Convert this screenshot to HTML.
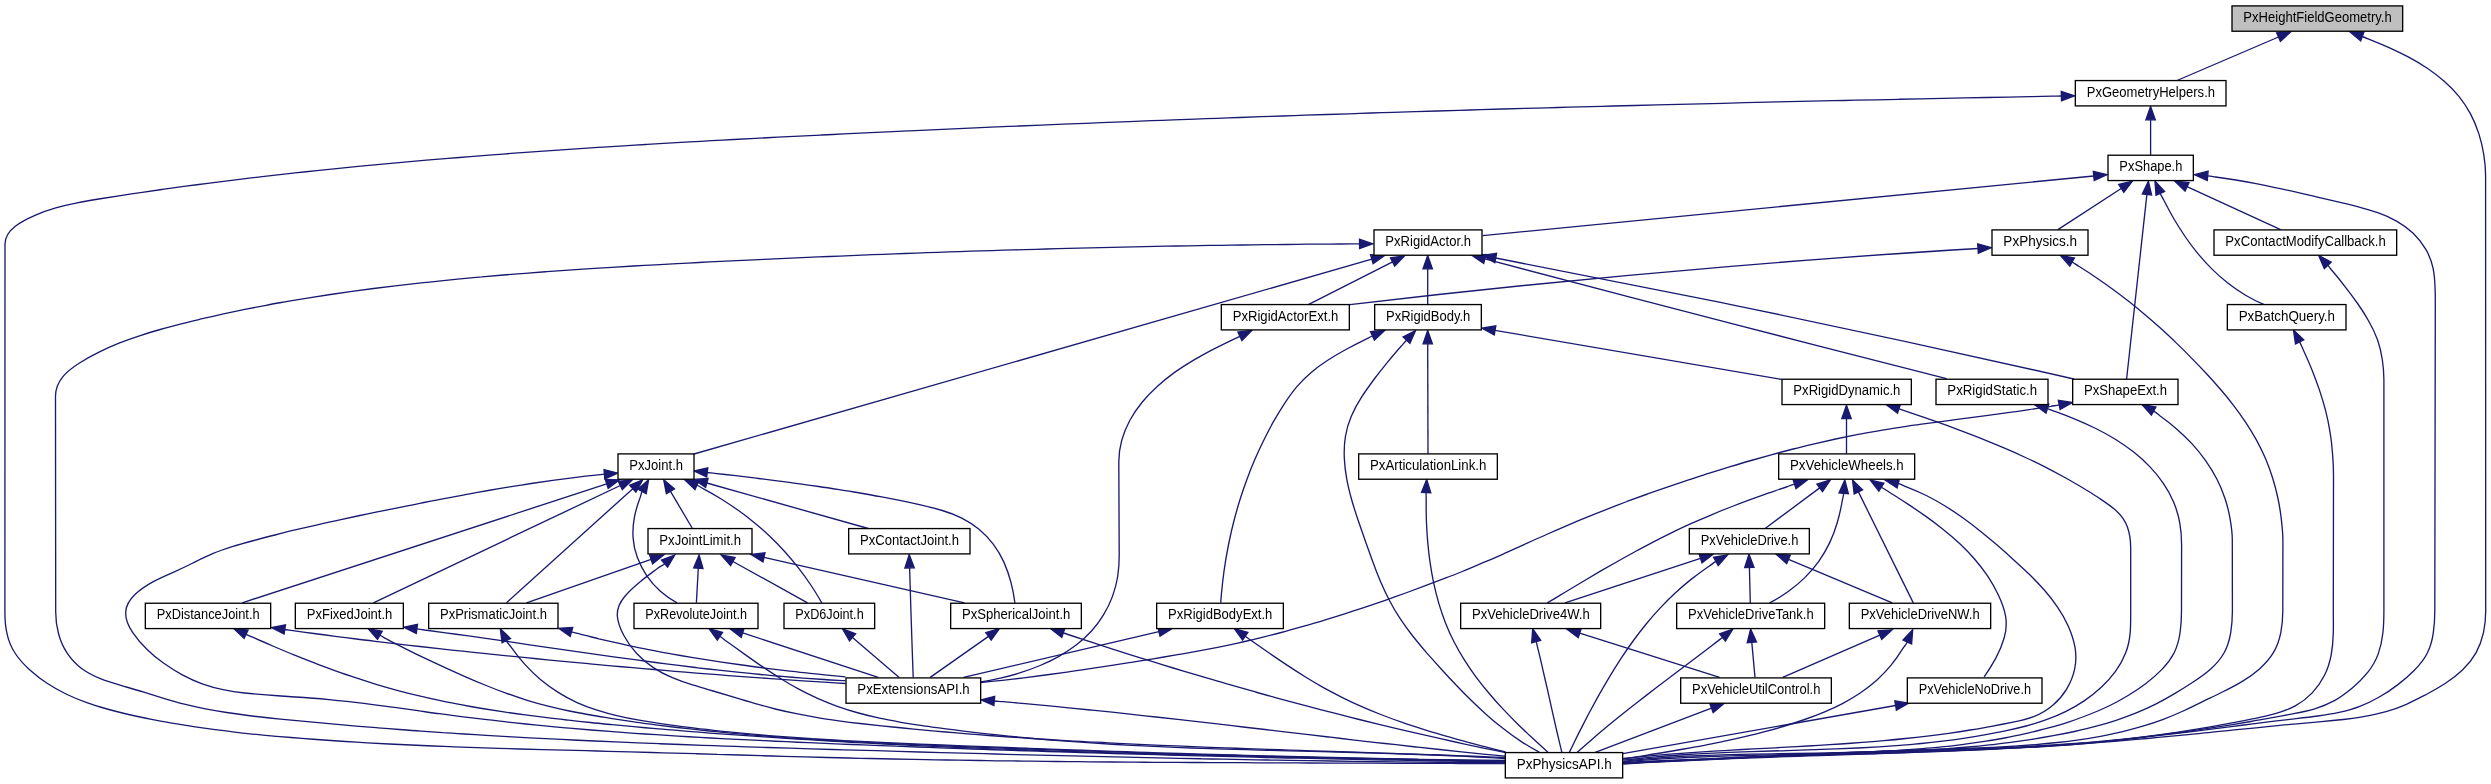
<!DOCTYPE html><html><head><meta charset="utf-8"><title>PxHeightFieldGeometry.h</title>
<style>html,body{margin:0;padding:0;background:#fff}svg{display:block;will-change:transform;opacity:0.999}text{font-family:"Liberation Sans",sans-serif;font-size:14px;fill:#000;text-anchor:start}.e{fill:none;stroke:#191970;stroke-width:1.33}.a{fill:#191970;stroke:#191970;stroke-width:1.33}.n{fill:#fff;stroke:#000;stroke-width:1.33}</style></head><body>
<svg width="2491" height="784" viewBox="0 0 2491 784">
<rect x="0" y="0" width="2491" height="784" fill="#fff"/>
<path class="e" d="M2278.5,37.0L2177.0,80.5"/>
<polygon class="a" points="2290.8,31.8 2276.7,32.8 2280.4,41.3"/>
<path class="e" d="M2362.3,36.5C2364.6,37.3 2366.9,38.3 2369.3,39.3C2375.9,41.9 2382.6,44.7 2389.1,47.6C2395.7,50.6 2402.3,53.8 2408.7,57.2C2415.0,60.6 2421.3,64.3 2427.3,68.3C2433.2,72.3 2438.9,76.6 2444.2,81.3C2449.5,85.9 2454.4,90.9 2458.9,96.4C2463.3,101.8 2467.2,107.7 2470.5,113.9C2473.9,120.2 2476.6,126.9 2478.8,133.6C2481.0,140.5 2482.7,147.5 2483.8,154.6C2484.9,161.7 2485.6,168.8 2485.6,176.0L2485.7,611.0C2485.7,618.3 2485.0,625.6 2483.5,632.7C2481.9,639.7 2479.5,646.6 2476.0,652.9C2472.5,659.1 2467.9,664.8 2462.7,669.8C2457.5,674.9 2451.6,679.3 2445.5,683.3C2439.2,687.4 2432.7,691.0 2426.2,694.5C2419.6,697.9 2413.1,701.3 2406.4,704.3C2399.8,707.2 2392.9,709.7 2386.0,711.7C2379.1,713.6 2372.0,715.2 2364.9,716.4C2357.8,717.7 2350.6,718.7 2343.4,719.5C2336.1,720.3 2328.8,721.0 2321.6,721.6C2314.3,722.2 2307.0,722.9 2299.7,723.6C2292.4,724.2 2285.2,724.9 2277.9,725.6C2270.6,726.3 2263.4,727.0 2256.1,727.8C2248.8,728.5 2241.6,729.2 2234.3,729.9C2227.1,730.7 2219.8,731.4 2212.5,732.1C2205.3,732.9 2198.0,733.6 2190.8,734.3C2183.5,735.0 2176.3,735.7 2169.0,736.4C2161.8,737.1 2154.5,737.8 2147.3,738.5C2140.0,739.1 2132.8,739.8 2125.5,740.4C2118.3,741.0 2111.0,741.6 2103.8,742.2C2096.5,742.8 2089.2,743.3 2082.0,743.9C2074.7,744.4 2067.5,744.9 2060.2,745.4C2052.9,745.8 2045.6,746.3 2038.4,746.7C2031.1,747.1 2023.8,747.6 2016.6,747.9C2009.3,748.3 2002.0,748.7 1994.7,749.1C1987.4,749.4 1980.2,749.8 1972.9,750.1C1965.6,750.4 1958.3,750.7 1951.0,751.0C1943.8,751.3 1936.5,751.6 1929.2,751.9C1921.9,752.1 1914.6,752.4 1907.3,752.7C1900.0,752.9 1892.8,753.2 1885.5,753.4C1878.2,753.7 1870.9,753.9 1863.6,754.2C1856.3,754.4 1849.0,754.6 1841.7,754.9C1834.5,755.1 1827.2,755.3 1819.9,755.6C1812.6,755.8 1805.3,756.1 1798.0,756.3C1790.7,756.5 1783.4,756.8 1776.1,757.0C1768.9,757.3 1761.6,757.6 1754.3,757.8C1747.0,758.1 1739.7,758.4 1732.4,758.6C1725.2,758.9 1717.9,759.2 1710.6,759.5C1703.3,759.8 1696.0,760.2 1688.8,760.5C1681.5,760.8 1674.2,761.2 1666.9,761.6C1659.7,761.9 1652.4,762.3 1645.1,762.7C1637.8,763.1 1630.6,763.6 1623.3,764.0"/>
<polygon class="a" points="2349.8,31.8 2360.7,40.8 2363.9,32.1"/>
<path class="e" d="M2150.6,119.8L2150.6,154.8"/>
<polygon class="a" points="2150.6,106.5 2145.9,119.8 2155.3,119.8"/>
<path class="e" d="M2061.4,96.0C2058.5,96.1 2055.6,96.2 2052.7,96.2C2045.4,96.4 2038.0,96.5 2030.7,96.6C2023.4,96.8 2016.1,96.9 2008.7,97.1C2001.4,97.2 1994.1,97.3 1986.7,97.5C1979.4,97.6 1972.1,97.8 1964.7,97.9C1957.4,98.1 1950.1,98.2 1942.8,98.4C1935.4,98.5 1928.1,98.7 1920.8,98.8C1913.4,99.0 1906.1,99.1 1898.8,99.3C1891.4,99.4 1884.1,99.6 1876.8,99.8C1869.4,99.9 1862.1,100.1 1854.8,100.2C1847.5,100.4 1840.1,100.6 1832.8,100.7C1825.5,100.9 1818.1,101.0 1810.8,101.2C1803.5,101.4 1796.1,101.5 1788.8,101.7C1781.5,101.9 1774.1,102.0 1766.8,102.2C1759.5,102.4 1752.2,102.6 1744.8,102.7C1737.5,102.9 1730.2,103.1 1722.8,103.3C1715.5,103.4 1708.2,103.6 1700.8,103.8C1693.5,104.0 1686.2,104.2 1678.9,104.3C1671.5,104.5 1664.2,104.7 1656.9,104.9C1649.5,105.1 1642.2,105.3 1634.9,105.5C1627.5,105.6 1620.2,105.8 1612.9,106.0C1605.6,106.2 1598.2,106.4 1590.9,106.6C1583.6,106.8 1576.2,107.0 1568.9,107.2C1561.6,107.4 1554.2,107.6 1546.9,107.8C1539.6,108.0 1532.3,108.2 1524.9,108.4C1517.6,108.6 1510.3,108.8 1502.9,109.0C1495.6,109.3 1488.3,109.5 1480.9,109.7C1473.6,109.9 1466.3,110.1 1459.0,110.3C1451.6,110.6 1444.3,110.8 1437.0,111.0C1429.6,111.2 1422.3,111.4 1415.0,111.7C1407.6,111.9 1400.3,112.1 1393.0,112.3C1385.7,112.6 1378.3,112.8 1371.0,113.0C1363.7,113.3 1356.3,113.5 1349.0,113.8C1341.7,114.0 1334.4,114.2 1327.0,114.5C1319.7,114.7 1312.4,115.0 1305.0,115.2C1297.7,115.5 1290.4,115.7 1283.1,116.0C1275.7,116.2 1268.4,116.5 1261.1,116.7C1253.7,117.0 1246.4,117.2 1239.1,117.5C1231.8,117.8 1224.4,118.0 1217.1,118.3C1209.8,118.5 1202.4,118.8 1195.1,119.1C1187.8,119.3 1180.5,119.6 1173.1,119.9C1165.8,120.2 1158.5,120.4 1151.2,120.7C1143.8,121.0 1136.5,121.3 1129.2,121.6C1121.8,121.9 1114.5,122.1 1107.2,122.4C1099.9,122.7 1092.5,123.0 1085.2,123.3C1077.9,123.6 1070.6,123.9 1063.2,124.2C1055.9,124.5 1048.6,124.8 1041.3,125.1C1033.9,125.4 1026.6,125.7 1019.3,126.0C1012.0,126.3 1004.6,126.6 997.3,126.9C990.0,127.3 982.7,127.6 975.3,127.9C968.0,128.2 960.7,128.5 953.4,128.9C946.0,129.2 938.7,129.5 931.4,129.8C924.1,130.2 916.7,130.5 909.4,130.8C902.1,131.2 894.8,131.5 887.4,131.9C880.1,132.2 872.8,132.5 865.5,132.9C858.1,133.2 850.8,133.6 843.5,133.9C836.2,134.3 828.8,134.7 821.5,135.0C814.2,135.4 806.9,135.7 799.5,136.1C792.2,136.5 784.9,136.8 777.6,137.2C770.3,137.6 762.9,138.0 755.6,138.3C748.3,138.7 741.0,139.1 733.6,139.5C726.3,139.9 719.0,140.3 711.7,140.7C704.4,141.1 697.0,141.5 689.7,141.9C682.4,142.3 675.1,142.7 667.8,143.2C660.4,143.6 653.1,144.0 645.8,144.5C638.5,144.9 631.2,145.4 623.9,145.8C616.5,146.3 609.2,146.7 601.9,147.2C594.6,147.7 587.3,148.1 580.0,148.6C572.6,149.1 565.3,149.6 558.0,150.1C550.7,150.6 543.4,151.1 536.1,151.6C528.8,152.2 521.4,152.7 514.1,153.2C506.8,153.8 499.5,154.3 492.2,154.9C484.9,155.4 477.6,156.0 470.3,156.6C463.0,157.2 455.6,157.8 448.3,158.4C441.0,159.0 433.7,159.6 426.4,160.2C419.1,160.8 411.8,161.5 404.5,162.1C397.2,162.8 389.9,163.4 382.6,164.1C375.3,164.8 368.0,165.5 360.7,166.2C353.4,166.9 346.1,167.6 338.8,168.4C331.5,169.1 324.2,169.8 316.9,170.6C309.6,171.4 302.3,172.1 295.0,172.9C287.7,173.7 280.4,174.6 273.2,175.4C265.9,176.2 258.6,177.1 251.3,177.9C244.0,178.8 236.7,179.7 229.5,180.6C222.2,181.5 214.9,182.4 207.7,183.3C200.4,184.3 193.1,185.2 185.8,186.2C178.6,187.2 171.3,188.2 164.1,189.2C156.8,190.2 149.5,191.3 142.3,192.3C135.0,193.4 127.8,194.5 120.5,195.6C113.3,196.7 106.1,197.8 98.8,199.0C91.6,200.1 84.3,201.3 77.2,202.8C70.0,204.2 62.8,205.8 55.8,207.9C48.7,209.9 41.7,212.3 35.0,215.3C28.1,218.3 21.2,221.6 15.3,226.2C9.9,230.4 5.0,237.2 5.0,244.0L4.9,612.0C4.9,619.2 5.4,626.6 7.0,633.6C8.5,640.7 11.3,647.5 15.3,653.5C19.3,659.7 24.5,665.1 29.9,670.0C35.3,674.9 41.1,679.4 47.1,683.3C53.1,687.3 59.5,690.8 66.0,694.0C72.5,697.1 79.3,699.9 86.1,702.4C93.0,704.9 100.0,707.0 107.1,709.0C114.2,711.0 121.4,712.8 128.6,714.5C135.8,716.1 143.0,717.7 150.2,719.1C157.4,720.6 164.6,721.9 171.8,723.2C179.0,724.4 186.2,725.6 193.5,726.6C200.7,727.7 207.9,728.7 215.1,729.7C222.3,730.6 229.5,731.5 236.8,732.3C244.0,733.1 251.2,733.9 258.5,734.6C265.7,735.3 272.9,736.0 280.2,736.6C287.4,737.2 294.7,737.8 301.9,738.4C309.2,739.0 316.4,739.5 323.7,740.0C331.0,740.5 338.2,741.0 345.5,741.5C352.8,741.9 360.0,742.4 367.3,742.8C374.6,743.2 381.9,743.6 389.1,744.0C396.4,744.4 403.7,744.7 411.0,745.0C418.3,745.4 425.6,745.7 432.9,746.0C440.2,746.3 447.4,746.6 454.7,746.8C462.0,747.1 469.3,747.4 476.6,747.6C483.9,747.9 491.2,748.1 498.5,748.3C505.8,748.6 513.1,748.8 520.4,749.0C527.7,749.2 535.0,749.4 542.3,749.6C549.6,749.8 556.9,750.0 564.2,750.2C571.5,750.4 578.9,750.5 586.2,750.7C593.5,750.9 600.8,751.1 608.1,751.3C615.4,751.5 622.7,751.7 630.0,751.9C637.3,752.1 644.6,752.3 651.8,752.5C659.1,752.7 666.4,752.9 673.7,753.1C681.0,753.3 688.3,753.5 695.6,753.7C702.9,753.9 710.2,754.1 717.5,754.4C724.8,754.6 732.1,754.8 739.3,755.0C746.6,755.2 753.9,755.4 761.2,755.7C768.5,755.9 775.8,756.1 783.1,756.3C790.4,756.5 797.6,756.7 804.9,756.9C812.2,757.1 819.5,757.3 826.8,757.5C834.1,757.7 841.4,757.9 848.7,758.0C856.0,758.2 863.2,758.4 870.5,758.5C877.8,758.7 885.1,758.9 892.4,759.0C899.7,759.2 907.0,759.3 914.3,759.4C921.6,759.6 928.9,759.7 936.2,759.8C943.5,760.0 950.7,760.1 958.0,760.2C965.3,760.3 972.6,760.4 979.9,760.5C987.2,760.6 994.5,760.8 1001.8,760.8C1009.1,760.9 1016.4,761.0 1023.7,761.1C1031.0,761.2 1038.3,761.3 1045.6,761.4C1052.9,761.5 1060.2,761.5 1067.5,761.6C1074.8,761.7 1082.1,761.7 1089.4,761.8C1096.7,761.9 1104.0,761.9 1111.2,762.0C1118.5,762.0 1125.8,762.1 1133.1,762.2C1140.4,762.2 1147.7,762.3 1155.0,762.3C1162.3,762.3 1169.6,762.4 1176.9,762.4C1184.2,762.5 1191.5,762.5 1198.8,762.5C1206.1,762.6 1213.4,762.6 1220.7,762.7C1228.0,762.7 1235.3,762.7 1242.6,762.7C1249.9,762.8 1257.2,762.8 1264.5,762.8C1271.8,762.9 1279.1,762.9 1286.4,762.9C1293.7,762.9 1301.0,763.0 1308.3,763.0C1315.6,763.0 1322.9,763.0 1330.2,763.1C1337.5,763.1 1344.8,763.1 1352.1,763.1C1359.3,763.1 1366.6,763.2 1373.9,763.2C1381.2,763.2 1388.5,763.2 1395.8,763.3C1403.1,763.3 1410.4,763.3 1417.7,763.3C1425.0,763.4 1432.3,763.4 1439.6,763.4C1446.9,763.4 1454.2,763.5 1461.5,763.5C1468.7,763.5 1476.0,763.6 1483.3,763.6C1490.6,763.6 1497.9,763.7 1505.2,763.7"/>
<polygon class="a" points="2074.7,95.8 2061.3,91.4 2061.5,100.7"/>
<path class="e" d="M2093.7,176.0L1482.6,235.6"/>
<polygon class="a" points="2107.0,174.7 2093.3,171.3 2094.2,180.6"/>
<path class="e" d="M2121.2,188.5L2057.9,229.6"/>
<polygon class="a" points="2132.4,181.2 2118.7,184.5 2123.8,192.4"/>
<path class="e" d="M2146.9,194.4L2126.6,379.0"/>
<polygon class="a" points="2148.4,181.2 2142.3,193.9 2151.6,195.0"/>
<path class="e" d="M2160.3,193.4C2161.3,195.8 2162.8,198.0 2163.9,200.3C2167.1,206.6 2170.4,212.9 2174.0,219.0C2177.6,225.1 2181.4,231.1 2185.4,237.0C2189.4,242.8 2193.6,248.4 2198.1,253.9C2202.6,259.3 2207.3,264.5 2212.3,269.4C2217.3,274.3 2222.6,279.0 2228.1,283.3C2233.6,287.6 2239.5,291.6 2245.5,295.2C2251.7,298.8 2258.1,302.1 2264.7,304.8"/>
<polygon class="a" points="2155.0,181.2 2156.0,195.3 2164.6,191.6"/>
<path class="e" d="M2187.0,186.7L2280.6,229.6"/>
<polygon class="a" points="2174.9,181.2 2185.1,191.0 2189.0,182.5"/>
<path class="e" d="M2207.7,175.9C2210.3,176.1 2212.8,176.6 2215.4,177.0C2222.2,177.9 2229.1,178.9 2235.9,180.0C2242.7,181.1 2249.4,182.3 2256.1,183.6C2262.8,184.9 2269.5,186.3 2276.2,187.8C2282.9,189.2 2289.6,190.7 2296.3,192.2C2303.0,193.8 2309.7,195.4 2316.4,196.9C2323.2,198.5 2330.0,200.1 2336.9,201.7C2343.8,203.3 2350.7,204.9 2357.5,206.6C2364.3,208.4 2371.1,210.3 2377.7,212.7C2384.2,215.0 2390.5,217.7 2396.5,221.1C2402.4,224.4 2408.0,228.4 2412.9,233.0C2417.9,237.8 2422.3,243.2 2425.7,249.2C2429.2,255.1 2431.7,261.7 2433.1,268.4C2434.5,275.2 2434.9,282.2 2435.1,289.2C2435.4,296.1 2435.3,303.1 2435.3,310.0L2434.8,611.0C2434.8,618.3 2434.4,625.6 2433.3,632.8C2432.3,639.8 2430.4,646.9 2427.2,653.3C2424.0,659.8 2419.2,665.4 2414.1,670.5C2409.0,675.7 2403.4,680.5 2397.6,684.9C2391.8,689.4 2385.7,693.4 2379.3,697.0C2373.1,700.6 2366.5,703.8 2359.8,706.3C2353.1,708.9 2346.1,710.8 2339.1,712.4C2332.0,713.9 2324.9,715.0 2317.7,716.0C2310.5,717.0 2303.3,717.8 2296.1,718.6C2288.8,719.5 2281.6,720.3 2274.4,721.2C2267.1,722.1 2259.9,723.0 2252.7,723.9C2245.5,724.8 2238.3,725.7 2231.1,726.6C2223.9,727.6 2216.7,728.5 2209.5,729.4C2202.3,730.3 2195.1,731.2 2187.9,732.1C2180.7,733.0 2173.5,733.9 2166.3,734.7C2159.1,735.6 2151.9,736.4 2144.7,737.2C2137.5,738.0 2130.3,738.8 2123.1,739.5C2115.9,740.2 2108.7,740.9 2101.5,741.6C2094.2,742.2 2087.0,742.8 2079.8,743.4C2072.6,744.0 2065.3,744.6 2058.1,745.1C2050.9,745.6 2043.7,746.1 2036.4,746.5C2029.2,747.0 2022.0,747.4 2014.7,747.8C2007.5,748.2 2000.2,748.6 1993.0,749.0C1985.8,749.3 1978.5,749.7 1971.3,750.0C1964.0,750.3 1956.8,750.6 1949.5,750.9C1942.3,751.2 1935.0,751.5 1927.8,751.7C1920.5,752.0 1913.3,752.2 1906.0,752.5C1898.7,752.7 1891.5,752.9 1884.2,753.1C1877.0,753.4 1869.7,753.6 1862.5,753.8C1855.2,754.0 1847.9,754.2 1840.7,754.4C1833.4,754.6 1826.2,754.8 1818.9,755.0C1811.7,755.3 1804.4,755.5 1797.1,755.7C1789.9,755.9 1782.6,756.1 1775.4,756.4C1768.1,756.6 1760.9,756.9 1753.6,757.1C1746.4,757.4 1739.1,757.6 1731.9,757.9C1724.6,758.2 1717.4,758.5 1710.1,758.8C1702.9,759.1 1695.6,759.5 1688.4,759.8C1681.2,760.2 1673.9,760.6 1666.7,761.0C1659.5,761.4 1652.2,761.8 1645.0,762.3C1637.8,762.7 1630.5,763.2 1623.3,763.7"/>
<polygon class="a" points="2194.4,174.7 2207.3,180.5 2208.1,171.2"/>
<path class="e" d="M1359.6,243.9C1356.8,243.9 1354.0,243.9 1351.1,243.9C1343.9,244.0 1336.6,244.0 1329.4,244.1C1322.1,244.1 1314.9,244.2 1307.6,244.2C1300.4,244.3 1293.1,244.4 1285.9,244.5C1278.6,244.5 1271.4,244.6 1264.1,244.7C1256.9,244.8 1249.6,244.9 1242.4,245.0C1235.1,245.1 1227.9,245.2 1220.6,245.3C1213.4,245.4 1206.1,245.5 1198.9,245.6C1191.6,245.8 1184.4,245.9 1177.1,246.0C1169.9,246.1 1162.6,246.3 1155.4,246.4C1148.1,246.6 1140.9,246.7 1133.6,246.9C1126.4,247.0 1119.1,247.2 1111.9,247.3C1104.6,247.5 1097.4,247.7 1090.1,247.9C1082.9,248.0 1075.6,248.2 1068.4,248.4C1061.1,248.6 1053.9,248.8 1046.6,249.0C1039.4,249.2 1032.1,249.4 1024.9,249.6C1017.6,249.8 1010.4,250.0 1003.1,250.2C995.9,250.4 988.6,250.7 981.4,250.9C974.1,251.1 966.9,251.3 959.6,251.6C952.4,251.8 945.1,252.1 937.9,252.3C930.6,252.6 923.4,252.8 916.1,253.1C908.9,253.3 901.6,253.6 894.4,253.9C887.2,254.2 879.9,254.4 872.7,254.7C865.4,255.0 858.2,255.3 850.9,255.6C843.7,255.9 836.4,256.2 829.2,256.5C821.9,256.8 814.7,257.1 807.4,257.4C800.2,257.7 793.0,258.0 785.7,258.4C778.5,258.7 771.2,259.0 764.0,259.3C756.7,259.7 749.5,260.0 742.3,260.4C735.0,260.7 727.8,261.1 720.5,261.4C713.3,261.8 706.0,262.1 698.8,262.5C691.6,262.9 684.3,263.2 677.1,263.6C669.8,264.0 662.6,264.4 655.4,264.8C648.1,265.2 640.9,265.6 633.6,266.0C626.4,266.4 619.2,266.9 611.9,267.3C604.7,267.7 597.5,268.2 590.2,268.7C583.0,269.1 575.8,269.6 568.5,270.1C561.3,270.6 554.1,271.1 546.8,271.6C539.6,272.2 532.4,272.7 525.1,273.3C517.9,273.9 510.7,274.4 503.5,275.0C496.2,275.7 489.0,276.3 481.8,276.9C474.6,277.6 467.3,278.2 460.1,278.9C452.9,279.6 445.7,280.3 438.5,281.1C431.2,281.8 424.0,282.6 416.8,283.4C409.6,284.2 402.4,285.0 395.2,285.9C388.0,286.7 380.8,287.6 373.6,288.5C366.4,289.4 359.2,290.4 352.0,291.4C344.8,292.4 337.6,293.4 330.4,294.5C323.3,295.6 316.1,296.7 308.9,297.8C301.8,299.0 294.6,300.2 287.5,301.4C280.3,302.7 273.2,303.9 266.1,305.3C259.0,306.6 251.9,308.0 244.8,309.4C237.7,310.9 230.6,312.4 223.5,313.9C216.4,315.5 209.4,317.1 202.3,318.7C195.3,320.4 188.2,322.1 181.2,323.9C174.2,325.7 167.2,327.5 160.2,329.5C153.3,331.4 146.3,333.5 139.5,335.8C132.6,338.0 125.7,340.5 119.0,343.2C112.2,345.9 105.5,348.9 99.0,352.2C92.3,355.5 85.8,359.1 79.5,363.0C73.4,366.9 67.2,371.2 62.7,376.9C58.5,382.2 55.5,389.2 55.5,396.0L55.7,612.0C55.7,619.2 56.6,626.5 58.5,633.5C60.3,640.4 63.2,647.2 67.2,653.2C71.0,659.0 75.9,664.3 81.6,668.5C87.3,672.7 93.8,676.0 100.4,678.6C107.3,681.4 114.5,683.5 121.6,685.6C128.8,687.7 135.9,689.7 143.0,691.9C149.9,694.0 156.8,696.2 163.7,698.3C170.6,700.4 177.5,702.4 184.4,704.1C191.4,705.9 198.4,707.4 205.4,708.8C212.4,710.2 219.5,711.4 226.6,712.5C233.8,713.6 240.9,714.6 248.1,715.5C255.2,716.4 262.4,717.2 269.6,718.0C276.8,718.7 284.0,719.5 291.2,720.2C298.5,720.9 305.7,721.6 312.9,722.2C320.1,722.9 327.3,723.6 334.5,724.2C341.7,724.8 348.9,725.4 356.1,726.1C363.4,726.7 370.6,727.2 377.8,727.8C385.0,728.4 392.2,728.9 399.4,729.5C406.7,730.0 413.9,730.5 421.1,731.1C428.3,731.6 435.5,732.1 442.7,732.6C450.0,733.0 457.2,733.5 464.4,734.0C471.6,734.4 478.8,734.9 486.0,735.3C493.3,735.7 500.5,736.2 507.7,736.6C514.9,737.0 522.1,737.4 529.4,737.8C536.6,738.1 543.8,738.5 551.0,738.9C558.2,739.3 565.5,739.6 572.7,740.0C579.9,740.3 587.1,740.6 594.4,741.0C601.6,741.3 608.8,741.6 616.0,741.9C623.3,742.2 630.5,742.5 637.7,742.8C644.9,743.1 652.1,743.4 659.4,743.7C666.6,744.0 673.8,744.3 681.0,744.5C688.3,744.8 695.5,745.1 702.7,745.3C709.9,745.6 717.2,745.8 724.4,746.1C731.6,746.3 738.9,746.5 746.1,746.8C753.3,747.0 760.5,747.2 767.8,747.5C775.0,747.7 782.2,747.9 789.4,748.2C796.7,748.4 803.9,748.6 811.1,748.8C818.4,749.0 825.6,749.2 832.8,749.5C840.0,749.7 847.3,749.9 854.5,750.1C861.7,750.3 868.9,750.5 876.2,750.7C883.4,750.9 890.6,751.1 897.9,751.3C905.1,751.5 912.3,751.7 919.5,752.0C926.8,752.2 934.0,752.4 941.2,752.6C948.5,752.7 955.7,752.9 962.9,753.1C970.2,753.3 977.4,753.5 984.6,753.7C991.8,753.9 999.1,754.1 1006.3,754.3C1013.5,754.5 1020.8,754.7 1028.0,754.8C1035.2,755.0 1042.4,755.2 1049.7,755.4C1056.9,755.6 1064.1,755.7 1071.4,755.9C1078.6,756.1 1085.8,756.3 1093.1,756.4C1100.3,756.6 1107.5,756.8 1114.7,756.9C1122.0,757.1 1129.2,757.3 1136.4,757.4C1143.7,757.6 1150.9,757.7 1158.1,757.9C1165.4,758.0 1172.6,758.2 1179.8,758.3C1187.1,758.5 1194.3,758.6 1201.5,758.8C1208.7,758.9 1216.0,759.1 1223.2,759.2C1230.4,759.3 1237.7,759.5 1244.9,759.6C1252.1,759.7 1259.4,759.9 1266.6,760.0C1273.8,760.1 1281.1,760.2 1288.3,760.3C1295.5,760.5 1302.7,760.6 1310.0,760.7C1317.2,760.8 1324.4,760.9 1331.7,761.0C1338.9,761.1 1346.1,761.2 1353.4,761.3C1360.6,761.4 1367.8,761.5 1375.1,761.6C1382.3,761.7 1389.5,761.8 1396.7,761.9C1404.0,761.9 1411.2,762.0 1418.4,762.1C1425.7,762.2 1432.9,762.2 1440.1,762.3C1447.4,762.4 1454.6,762.4 1461.8,762.5C1469.0,762.6 1476.3,762.6 1483.5,762.7C1490.7,762.7 1498.0,762.8 1505.2,762.8"/>
<polygon class="a" points="1372.9,243.8 1359.5,239.2 1359.6,248.5"/>
<path class="e" d="M1371.8,259.2L694.0,454.0"/>
<polygon class="a" points="1384.6,255.5 1370.5,254.7 1373.1,263.7"/>
<path class="e" d="M1392.6,261.9L1308.3,304.6"/>
<polygon class="a" points="1404.5,255.9 1390.5,257.8 1394.7,266.1"/>
<path class="e" d="M1427.7,268.8L1427.7,304.6"/>
<polygon class="a" points="1427.7,255.5 1423.0,268.8 1432.4,268.8"/>
<path class="e" d="M1484.9,258.9C1566.9,280.7 1648.9,302.1 1731.0,323.4C1802.8,342.0 1874.6,360.4 1946.5,378.7"/>
<polygon class="a" points="1472.0,255.5 1483.7,263.4 1486.1,254.4"/>
<path class="e" d="M1495.7,258.0C1574.3,272.9 1652.7,288.5 1731.0,304.6C1845.5,328.2 1959.8,353.0 2073.8,379.0"/>
<polygon class="a" points="1482.6,255.5 1494.8,262.6 1496.6,253.4"/>
<path class="e" d="M1978.0,248.5C1895.6,253.4 1813.3,259.5 1731.0,266.3C1603.8,276.9 1476.7,289.7 1349.9,304.6"/>
<polygon class="a" points="1991.3,247.7 1977.7,243.8 1978.3,253.2"/>
<path class="e" d="M2072.1,262.0C2074.4,263.3 2076.5,264.9 2078.8,266.3C2084.7,270.0 2090.6,273.8 2096.4,277.7C2102.1,281.6 2107.8,285.6 2113.4,289.7C2119.0,293.8 2124.5,298.0 2129.9,302.3C2135.3,306.6 2140.6,311.0 2145.9,315.5C2151.2,319.9 2156.4,324.5 2161.5,329.1C2166.6,333.8 2171.7,338.5 2176.7,343.4C2181.7,348.2 2186.7,353.1 2191.5,358.1C2196.5,363.1 2201.3,368.1 2206.1,373.2C2210.9,378.4 2215.6,383.6 2220.2,389.0C2224.8,394.3 2229.2,399.7 2233.5,405.3C2237.7,410.8 2241.8,416.5 2245.7,422.3C2249.5,428.1 2253.1,434.0 2256.5,440.1C2259.8,446.2 2262.9,452.4 2265.6,458.7C2268.3,465.1 2270.7,471.6 2272.7,478.3C2274.8,484.9 2276.5,491.7 2278.0,498.5C2279.4,505.3 2280.5,512.2 2281.3,519.1C2282.1,526.0 2282.9,533.0 2282.9,540.0L2282.8,611.0C2282.8,618.3 2282.2,625.6 2280.8,632.7C2279.4,639.6 2277.1,646.6 2273.4,652.7C2269.7,658.8 2264.8,664.2 2259.5,668.9C2254.1,673.7 2248.1,677.9 2241.9,681.6C2235.6,685.4 2229.0,688.8 2222.4,692.0C2215.8,695.3 2209.2,698.4 2202.6,701.6C2196.2,704.8 2189.7,708.0 2183.2,711.0C2176.6,714.0 2170.0,716.8 2163.3,719.3C2156.6,721.8 2149.7,724.1 2142.8,726.2C2135.9,728.3 2128.9,730.1 2121.8,731.8C2114.8,733.5 2107.6,734.9 2100.5,736.3C2093.3,737.6 2086.1,738.8 2078.9,739.8C2071.7,740.8 2064.5,741.7 2057.3,742.5C2050.1,743.3 2042.8,744.0 2035.6,744.6C2028.4,745.2 2021.2,745.7 2014.0,746.2C2006.8,746.6 1999.6,747.0 1992.4,747.3C1985.1,747.6 1977.9,747.9 1970.7,748.2C1963.5,748.5 1956.3,748.7 1949.1,748.9C1941.8,749.2 1934.6,749.4 1927.4,749.7C1920.1,749.9 1912.9,750.2 1905.7,750.4C1898.4,750.7 1891.2,751.0 1884.0,751.2C1876.7,751.5 1869.5,751.8 1862.2,752.1C1855.0,752.4 1847.7,752.6 1840.5,752.9C1833.2,753.2 1826.0,753.5 1818.7,753.8C1811.5,754.1 1804.2,754.4 1797.0,754.8C1789.7,755.1 1782.5,755.4 1775.2,755.7C1768.0,756.0 1760.7,756.3 1753.5,756.6C1746.3,757.0 1739.0,757.3 1731.8,757.6C1724.5,757.9 1717.3,758.3 1710.0,758.6C1702.8,758.9 1695.6,759.2 1688.3,759.6C1681.1,759.9 1673.9,760.2 1666.6,760.5C1659.4,760.9 1652.2,761.2 1645.0,761.5C1637.7,761.9 1630.5,762.2 1623.3,762.5"/>
<polygon class="a" points="2060.5,255.5 2069.8,266.1 2074.4,258.0"/>
<path class="e" d="M2327.7,265.3C2329.3,267.0 2330.7,269.0 2332.2,270.8C2336.7,276.0 2341.0,281.3 2345.2,286.8C2349.5,292.3 2353.6,297.8 2357.6,303.5C2361.6,309.2 2365.4,315.1 2368.8,321.2C2372.2,327.1 2375.2,333.3 2377.5,339.8C2379.8,346.2 2381.3,352.8 2382.3,359.5C2383.3,366.3 2383.9,373.2 2383.9,380.0L2383.9,611.0C2383.9,618.2 2383.7,625.5 2382.9,632.7C2382.1,639.8 2380.7,646.9 2378.3,653.6C2375.9,660.3 2372.3,666.6 2367.9,672.2C2363.3,678.0 2358.0,683.2 2352.3,688.0C2346.7,692.6 2340.8,697.1 2334.4,700.7C2328.2,704.1 2321.5,706.8 2314.7,708.8C2307.8,710.8 2300.7,712.3 2293.6,713.7C2286.5,715.1 2279.4,716.4 2272.2,717.7C2265.1,719.0 2258.0,720.3 2250.8,721.5C2243.7,722.7 2236.6,723.9 2229.4,725.1C2222.3,726.2 2215.1,727.3 2207.9,728.4C2200.8,729.5 2193.6,730.5 2186.5,731.5C2179.3,732.5 2172.1,733.5 2164.9,734.4C2157.8,735.3 2150.6,736.2 2143.4,737.0C2136.2,737.8 2129.0,738.6 2121.8,739.3C2114.6,740.0 2107.4,740.7 2100.2,741.3C2093.0,742.0 2085.8,742.6 2078.6,743.1C2071.4,743.7 2064.2,744.2 2057.0,744.6C2049.7,745.1 2042.5,745.6 2035.3,746.0C2028.1,746.4 2020.9,746.8 2013.6,747.2C2006.4,747.5 1999.2,747.9 1992.0,748.2C1984.7,748.5 1977.5,748.9 1970.3,749.2C1963.1,749.5 1955.8,749.7 1948.6,750.0C1941.4,750.3 1934.1,750.6 1926.9,750.8C1919.7,751.1 1912.4,751.4 1905.2,751.7C1898.0,751.9 1890.8,752.2 1883.5,752.4C1876.3,752.7 1869.1,753.0 1861.8,753.2C1854.6,753.5 1847.4,753.7 1840.1,754.0C1832.9,754.3 1825.7,754.5 1818.4,754.8C1811.2,755.0 1804.0,755.3 1796.8,755.6C1789.5,755.8 1782.3,756.1 1775.1,756.4C1767.8,756.7 1760.6,756.9 1753.4,757.2C1746.2,757.5 1738.9,757.8 1731.7,758.1C1724.5,758.4 1717.2,758.7 1710.0,759.0C1702.8,759.4 1695.6,759.7 1688.3,760.0C1681.1,760.3 1673.9,760.7 1666.7,761.0C1659.4,761.4 1652.2,761.8 1645.0,762.1C1637.7,762.5 1630.5,762.9 1623.3,763.3"/>
<polygon class="a" points="2318.7,255.5 2324.3,268.5 2331.2,262.1"/>
<path class="e" d="M2299.6,341.9C2300.9,344.4 2301.9,347.0 2303.1,349.5C2306.1,356.1 2309.1,362.7 2311.8,369.4C2314.5,376.2 2317.1,383.0 2319.4,389.9C2321.7,396.7 2323.8,403.7 2325.6,410.7C2327.4,417.7 2328.9,424.8 2330.0,431.9C2331.2,439.0 2332.0,446.2 2332.5,453.3C2333.1,460.6 2333.5,467.8 2333.5,475.0L2333.3,611.0C2333.3,618.3 2333.5,625.6 2333.3,632.9C2333.1,640.2 2332.5,647.6 2331.2,654.8C2329.8,661.9 2327.7,668.9 2324.5,675.3C2321.3,681.7 2317.1,687.7 2312.2,692.9C2307.3,698.1 2301.5,702.5 2295.3,705.9C2288.9,709.3 2282.1,711.8 2275.2,713.7C2268.1,715.7 2260.8,717.2 2253.6,718.7C2246.4,720.1 2239.1,721.5 2231.9,722.9C2224.7,724.2 2217.5,725.5 2210.3,726.8C2203.2,728.0 2196.0,729.2 2188.9,730.4C2181.7,731.5 2174.6,732.6 2167.4,733.7C2160.2,734.7 2153.1,735.7 2145.9,736.7C2138.7,737.6 2131.6,738.5 2124.4,739.4C2117.2,740.2 2109.9,741.0 2102.7,741.8C2095.5,742.6 2088.2,743.3 2080.9,743.9C2073.7,744.6 2066.4,745.2 2059.1,745.7C2051.8,746.2 2044.5,746.6 2037.2,747.0C2030.0,747.4 2022.7,747.6 2015.4,747.9C2008.2,748.1 2000.9,748.3 1993.7,748.5C1986.4,748.6 1979.1,748.8 1971.9,748.9C1964.6,749.0 1957.4,749.2 1950.1,749.3C1942.9,749.4 1935.6,749.6 1928.4,749.8C1921.1,750.0 1913.8,750.2 1906.6,750.4C1899.3,750.6 1892.1,750.9 1884.8,751.2C1877.5,751.4 1870.3,751.7 1863.0,752.0C1855.7,752.3 1848.5,752.6 1841.2,752.9C1833.9,753.3 1826.7,753.6 1819.4,754.0C1812.1,754.3 1804.9,754.7 1797.6,755.0C1790.3,755.4 1783.1,755.7 1775.8,756.1C1768.5,756.5 1761.3,756.8 1754.0,757.2C1746.7,757.6 1739.5,757.9 1732.2,758.3C1724.9,758.7 1717.7,759.0 1710.4,759.4C1703.1,759.7 1695.9,760.1 1688.6,760.4C1681.4,760.7 1674.1,761.0 1666.8,761.4C1659.6,761.7 1652.3,762.0 1645.1,762.2C1637.8,762.5 1630.6,762.8 1623.3,763.0"/>
<polygon class="a" points="2293.5,330.1 2295.5,344.1 2303.8,339.8"/>
<path class="e" d="M1239.9,336.3C1237.4,337.5 1234.9,338.7 1232.4,339.9C1225.8,343.1 1219.2,346.3 1212.6,349.7C1206.1,353.1 1199.6,356.7 1193.2,360.4C1186.8,364.2 1180.6,368.2 1174.6,372.4C1168.7,376.7 1162.9,381.3 1157.5,386.2C1152.1,391.1 1146.9,396.4 1142.3,402.0C1137.7,407.7 1133.4,413.8 1129.9,420.2C1126.4,426.6 1123.6,433.4 1121.7,440.4C1119.8,447.4 1118.8,454.7 1118.8,462.0L1119.2,556.0C1119.2,562.9 1118.7,569.7 1117.7,576.5C1116.6,583.3 1114.8,590.0 1112.5,596.4C1110.1,602.8 1107.1,609.0 1103.5,614.9C1100.0,620.7 1095.9,626.2 1091.3,631.2C1086.7,636.2 1081.6,640.8 1076.2,645.0C1070.7,649.2 1064.9,652.9 1058.9,656.3C1052.9,659.8 1046.5,662.8 1040.1,665.5C1033.7,668.2 1027.0,670.6 1020.4,672.7C1013.8,674.8 1007.1,676.6 1000.3,678.1C993.8,679.6 987.2,680.9 980.6,682.0"/>
<polygon class="a" points="1251.9,330.5 1237.9,332.1 1241.9,340.5"/>
<path class="e" d="M1372.4,336.0C1370.1,337.0 1367.9,338.2 1365.6,339.3C1359.3,342.4 1353.0,345.6 1346.8,349.0C1340.5,352.4 1334.4,356.0 1328.5,359.8C1322.6,363.6 1316.8,367.7 1311.5,372.2C1306.2,376.7 1301.2,381.6 1296.7,386.9C1292.2,392.3 1288.2,398.0 1284.3,403.8C1280.5,409.7 1276.8,415.8 1273.3,421.9C1269.9,428.1 1266.6,434.3 1263.5,440.7C1260.4,447.0 1257.4,453.4 1254.7,459.8C1251.9,466.3 1249.3,472.8 1246.9,479.4C1244.4,486.0 1242.2,492.6 1240.1,499.3C1238.0,506.0 1236.1,512.7 1234.3,519.5C1232.5,526.3 1230.9,533.1 1229.5,540.0C1228.0,546.9 1226.8,553.8 1225.6,560.7C1224.5,567.6 1223.5,574.6 1222.7,581.6C1221.9,588.6 1221.2,595.6 1220.7,602.6"/>
<polygon class="a" points="1384.6,330.5 1370.5,331.7 1374.4,340.2"/>
<path class="e" d="M1406.5,340.2C1404.6,342.2 1402.9,344.3 1401.1,346.3C1396.4,351.6 1391.8,357.1 1387.2,362.6C1382.7,368.1 1378.2,373.8 1373.9,379.5C1369.6,385.4 1365.3,391.3 1361.4,397.4C1357.5,403.5 1354.0,409.8 1351.2,416.4C1348.4,422.9 1346.5,429.7 1345.4,436.7C1344.3,443.7 1344.0,450.9 1344.3,457.9C1344.6,465.1 1345.5,472.3 1346.8,479.4C1348.1,486.4 1349.9,493.4 1351.8,500.3C1353.8,507.2 1356.0,514.0 1358.3,520.8C1360.7,527.6 1363.0,534.4 1365.4,541.2C1367.8,548.0 1370.2,554.7 1372.7,561.5C1375.1,568.2 1377.7,574.9 1380.5,581.5C1383.3,588.0 1386.3,594.5 1389.6,600.8C1392.9,607.1 1396.5,613.3 1400.5,619.2C1404.4,625.1 1408.7,630.9 1413.1,636.5C1417.6,642.1 1422.2,647.6 1426.9,653.1C1431.7,658.5 1436.5,663.8 1441.4,669.2C1446.2,674.5 1451.1,679.8 1456.1,685.0C1461.0,690.2 1466.0,695.3 1471.1,700.3C1476.2,705.3 1481.4,710.2 1486.8,714.9C1492.1,719.7 1497.6,724.2 1503.2,728.6C1508.8,733.0 1514.6,737.2 1520.6,741.1C1526.6,745.1 1532.8,748.8 1539.2,752.2"/>
<polygon class="a" points="1415.6,330.5 1403.1,337.0 1409.9,343.4"/>
<path class="e" d="M1427.7,343.8L1428.0,453.7"/>
<polygon class="a" points="1427.7,330.5 1423.1,343.8 1432.4,343.8"/>
<path class="e" d="M1495.0,330.4L1781.7,379.4"/>
<polygon class="a" points="1481.9,328.2 1494.3,335.0 1495.8,325.8"/>
<path class="e" d="M1846.5,418.6L1846.5,453.9"/>
<polygon class="a" points="1846.5,405.3 1841.8,418.6 1851.2,418.6"/>
<path class="e" d="M1898.9,408.8C1901.4,409.6 1903.9,410.5 1906.3,411.3C1913.0,413.6 1919.7,415.9 1926.3,418.2C1933.0,420.5 1939.6,422.8 1946.2,425.2C1952.8,427.6 1959.4,430.1 1966.0,432.6C1972.6,435.1 1979.1,437.6 1985.7,440.3C1992.2,442.9 1998.7,445.6 2005.1,448.4C2011.6,451.1 2018.0,454.0 2024.4,457.0C2030.8,459.9 2037.1,463.0 2043.4,466.1C2049.7,469.3 2055.9,472.6 2062.1,476.0C2068.3,479.3 2074.5,482.9 2080.5,486.5C2086.6,490.1 2092.7,493.9 2098.6,497.8C2104.5,501.7 2110.5,505.6 2115.7,510.3C2120.7,514.9 2125.1,520.6 2127.4,526.9C2129.8,533.6 2130.7,540.9 2130.7,548.0L2130.7,611.0C2130.7,618.2 2130.8,625.4 2130.2,632.6C2129.6,639.5 2128.2,646.5 2125.6,653.0C2123.1,659.5 2119.6,665.7 2115.5,671.3C2111.3,677.0 2106.5,682.3 2101.3,687.2C2096.0,692.1 2090.4,696.6 2084.5,700.6C2078.6,704.6 2072.4,708.2 2066.0,711.4C2059.7,714.6 2053.1,717.3 2046.4,719.7C2039.7,722.1 2032.9,724.2 2026.1,726.0C2019.2,727.8 2012.3,729.4 2005.3,730.9C1998.4,732.3 1991.4,733.7 1984.4,734.9C1977.4,736.2 1970.4,737.3 1963.4,738.3C1956.4,739.4 1949.4,740.3 1942.4,741.1C1935.3,742.0 1928.3,742.8 1921.2,743.5C1914.2,744.1 1907.1,744.8 1900.0,745.3C1893.0,745.9 1885.9,746.4 1878.8,746.8C1871.7,747.2 1864.6,747.6 1857.5,748.0C1850.4,748.3 1843.3,748.6 1836.2,748.9C1829.1,749.2 1822.0,749.4 1814.8,749.7C1807.7,749.9 1800.6,750.1 1793.5,750.3C1786.4,750.6 1779.3,750.8 1772.1,751.0C1765.0,751.2 1757.9,751.4 1750.8,751.6C1743.7,751.9 1736.6,752.1 1729.4,752.4C1722.3,752.7 1715.2,753.0 1708.1,753.3C1701.0,753.7 1693.9,754.1 1686.8,754.5C1679.8,755.0 1672.7,755.5 1665.6,756.0C1658.5,756.6 1651.5,757.2 1644.4,757.9C1637.4,758.6 1630.3,759.3 1623.3,760.2"/>
<polygon class="a" points="1886.3,404.6 1897.5,413.2 1900.4,404.4"/>
<path class="e" d="M2047.4,408.7C2050.0,409.5 2052.4,410.5 2055.0,411.4C2061.9,413.9 2068.7,416.5 2075.5,419.3C2082.4,422.1 2089.1,425.2 2095.8,428.5C2102.4,431.8 2108.9,435.4 2115.3,439.2C2121.5,443.1 2127.6,447.3 2133.4,451.8C2139.1,456.3 2144.5,461.1 2149.5,466.4C2154.5,471.6 2159.2,477.2 2163.2,483.2C2167.3,489.2 2170.9,495.6 2173.7,502.3C2176.5,509.0 2178.6,516.1 2179.8,523.2C2181.1,530.4 2181.6,537.7 2181.6,545.0L2181.5,611.0C2181.5,618.2 2181.1,625.4 2180.1,632.5C2179.1,639.4 2177.3,646.4 2174.2,652.7C2171.0,658.9 2166.6,664.6 2161.7,669.6C2156.7,674.7 2151.3,679.4 2145.6,683.8C2139.9,688.1 2133.9,692.1 2127.7,695.8C2121.6,699.5 2115.3,702.9 2108.9,706.0C2102.4,709.1 2095.9,711.9 2089.2,714.5C2082.6,717.2 2075.9,719.5 2069.1,721.8C2062.3,724.0 2055.4,726.0 2048.6,727.9C2041.7,729.7 2034.8,731.5 2027.9,733.1C2021.0,734.7 2014.0,736.1 2007.1,737.5C2000.1,738.8 1993.1,740.1 1986.1,741.2C1979.1,742.3 1972.1,743.3 1965.1,744.2C1958.0,745.1 1951.0,746.0 1943.9,746.7C1936.8,747.4 1929.7,748.1 1922.6,748.6C1915.5,749.2 1908.4,749.7 1901.3,750.1C1894.2,750.6 1887.1,750.9 1879.9,751.3C1872.8,751.6 1865.7,751.9 1858.5,752.1C1851.4,752.3 1844.2,752.5 1837.0,752.7C1829.9,752.9 1822.7,753.0 1815.6,753.1C1808.4,753.2 1801.2,753.4 1794.1,753.5C1786.9,753.6 1779.7,753.7 1772.6,753.8C1765.4,753.9 1758.2,754.0 1751.1,754.2C1743.9,754.3 1736.8,754.4 1729.6,754.6C1722.5,754.8 1715.4,755.0 1708.2,755.3C1701.1,755.6 1694.0,755.9 1686.9,756.2C1679.8,756.6 1672.7,757.0 1665.6,757.5C1658.5,758.0 1651.5,758.5 1644.4,759.2C1637.4,759.8 1630.3,760.5 1623.3,761.3"/>
<polygon class="a" points="2034.7,404.6 2046.0,413.1 2048.8,404.2"/>
<path class="e" d="M2059.2,404.9C2056.4,405.5 2053.6,405.8 2050.8,406.3C2043.7,407.4 2036.5,408.6 2029.3,409.6C2022.1,410.7 2015.0,411.7 2007.8,412.7C2000.6,413.7 1993.4,414.7 1986.2,415.6C1979.0,416.6 1971.8,417.5 1964.6,418.4C1957.4,419.4 1950.2,420.3 1943.0,421.3C1935.8,422.2 1928.6,423.2 1921.4,424.2C1914.2,425.2 1907.0,426.3 1899.9,427.4C1892.7,428.5 1885.5,429.6 1878.4,430.8C1871.2,432.0 1864.1,433.3 1856.9,434.7C1849.8,436.1 1842.7,437.5 1835.6,439.0C1828.5,440.6 1821.4,442.2 1814.4,443.8C1807.3,445.5 1800.2,447.2 1793.2,449.0C1786.1,450.8 1779.1,452.7 1772.1,454.6C1765.1,456.5 1758.1,458.5 1751.1,460.5C1744.1,462.5 1737.1,464.6 1730.2,466.7C1723.2,468.8 1716.3,471.0 1709.4,473.2C1702.4,475.3 1695.5,477.6 1688.6,479.8C1681.7,482.1 1674.9,484.4 1668.0,486.8C1661.1,489.2 1654.3,491.6 1647.5,494.0C1640.6,496.5 1633.8,499.0 1627.0,501.5C1620.2,504.1 1613.5,506.7 1606.7,509.3C1600.0,511.9 1593.2,514.6 1586.5,517.4C1579.8,520.1 1573.1,522.9 1566.4,525.8C1559.8,528.6 1553.1,531.5 1546.5,534.5C1539.8,537.4 1533.2,540.4 1526.6,543.4C1520.0,546.4 1513.4,549.4 1506.8,552.4C1500.1,555.4 1493.5,558.4 1486.8,561.2C1480.2,564.1 1473.5,566.9 1466.8,569.7C1460.0,572.4 1453.3,575.1 1446.5,577.7C1439.7,580.3 1432.9,582.9 1426.1,585.4C1419.3,588.0 1412.5,590.5 1405.7,593.0C1398.9,595.4 1392.0,597.9 1385.2,600.3C1378.3,602.7 1371.4,605.0 1364.5,607.3C1357.7,609.6 1350.7,611.9 1343.8,614.1C1336.9,616.3 1330.0,618.5 1323.0,620.6C1316.1,622.7 1309.1,624.7 1302.1,626.7C1295.2,628.7 1288.2,630.7 1281.2,632.5C1274.1,634.4 1267.1,636.2 1260.1,637.9C1253.0,639.6 1246.0,641.3 1238.9,642.8C1231.8,644.4 1224.7,645.9 1217.6,647.3C1210.4,648.7 1203.3,650.1 1196.2,651.4C1189.0,652.7 1181.9,653.9 1174.7,655.2C1167.5,656.4 1160.4,657.6 1153.2,658.8C1146.0,659.9 1138.9,661.1 1131.7,662.3C1124.5,663.4 1117.3,664.6 1110.2,665.7C1103.0,666.8 1095.8,667.9 1088.6,668.9C1081.5,670.0 1074.3,671.1 1067.1,672.1C1059.9,673.1 1052.7,674.1 1045.5,675.0C1038.3,676.0 1031.1,676.9 1023.9,677.8C1016.7,678.6 1009.5,679.5 1002.3,680.3C995.1,681.0 987.8,681.8 980.6,682.5"/>
<polygon class="a" points="2072.3,402.5 2058.3,400.4 2060.1,409.5"/>
<path class="e" d="M2153.7,411.1C2155.9,412.3 2157.7,414.2 2159.8,415.7C2165.6,419.8 2171.2,424.2 2176.6,428.9C2182.0,433.6 2187.2,438.6 2192.1,443.9C2196.9,449.2 2201.4,454.7 2205.6,460.6C2209.7,466.4 2213.5,472.5 2216.7,478.8C2220.0,485.1 2222.7,491.6 2224.9,498.3C2227.2,505.0 2228.9,511.9 2230.1,518.9C2231.3,525.8 2232.3,532.9 2232.3,540.0L2232.4,611.0C2232.4,618.3 2231.9,625.6 2230.7,632.8C2229.5,639.8 2227.5,646.8 2224.0,653.0C2220.6,659.0 2215.9,664.4 2210.7,669.0C2205.3,673.8 2199.3,678.0 2193.2,682.0C2187.1,686.0 2180.9,689.9 2174.6,693.6C2168.4,697.3 2162.1,700.8 2155.7,704.1C2149.3,707.3 2142.8,710.2 2136.2,712.9C2129.6,715.6 2122.8,718.1 2116.1,720.3C2109.2,722.6 2102.4,724.6 2095.4,726.4C2088.5,728.3 2081.5,729.9 2074.5,731.5C2067.4,733.0 2060.4,734.4 2053.3,735.7C2046.2,737.0 2039.1,738.2 2032.0,739.3C2024.9,740.4 2017.8,741.4 2010.7,742.3C2003.6,743.2 1996.5,744.1 1989.3,744.9C1982.2,745.7 1975.1,746.4 1967.9,747.0C1960.8,747.7 1953.6,748.2 1946.5,748.8C1939.3,749.3 1932.1,749.8 1925.0,750.2C1917.8,750.6 1910.6,751.0 1903.4,751.3C1896.3,751.7 1889.1,752.0 1881.9,752.2C1874.7,752.5 1867.5,752.7 1860.3,752.9C1853.1,753.1 1845.9,753.3 1838.7,753.5C1831.5,753.6 1824.3,753.8 1817.1,753.9C1809.9,754.1 1802.7,754.2 1795.5,754.4C1788.4,754.5 1781.2,754.7 1774.0,754.8C1766.8,754.9 1759.6,755.1 1752.4,755.3C1745.2,755.5 1738.0,755.6 1730.8,755.9C1723.6,756.1 1716.4,756.3 1709.2,756.6C1702.1,756.9 1694.9,757.2 1687.7,757.5C1680.5,757.9 1673.4,758.3 1666.2,758.7C1659.0,759.1 1651.9,759.6 1644.7,760.2C1637.6,760.7 1630.4,761.3 1623.3,762.0"/>
<polygon class="a" points="2142.0,404.6 2151.4,415.2 2155.9,407.0"/>
<path class="e" d="M604.4,474.2C601.6,474.5 598.8,474.9 596.0,475.2C588.8,475.9 581.6,476.7 574.3,477.6C567.1,478.5 559.9,479.4 552.7,480.4C545.6,481.4 538.4,482.4 531.2,483.5C524.0,484.6 516.9,485.7 509.7,486.9C502.5,488.1 495.4,489.3 488.2,490.5C481.1,491.8 473.9,493.1 466.8,494.4C459.6,495.7 452.5,497.0 445.4,498.4C438.2,499.7 431.1,501.1 424.0,502.5C416.9,503.9 409.7,505.3 402.6,506.8C395.5,508.2 388.4,509.6 381.3,511.1C374.1,512.5 367.0,514.0 359.9,515.5C352.8,517.0 345.7,518.5 338.6,520.1C331.5,521.6 324.4,523.2 317.4,524.8C310.3,526.4 303.2,528.1 296.2,529.7C289.1,531.4 282.0,533.2 275.0,535.0C268.0,536.7 260.9,538.6 253.9,540.5C246.9,542.4 239.9,544.3 233.0,546.4C226.1,548.6 219.2,550.9 212.6,553.7C205.9,556.5 199.4,559.8 192.9,563.0C186.4,566.3 179.8,569.4 173.2,572.3C166.5,575.2 159.8,578.1 153.3,581.6C146.8,585.1 140.5,589.2 135.2,594.3C130.2,599.0 125.9,605.7 125.7,612.5C125.4,619.6 128.8,626.7 132.8,632.6C136.9,638.7 141.8,644.4 147.1,649.5C152.2,654.6 157.9,659.1 163.8,663.3C169.7,667.5 175.9,671.4 182.3,674.8C188.7,678.2 195.4,681.3 202.2,683.8C209.0,686.2 216.0,688.2 223.1,689.6C230.2,691.1 237.3,692.2 244.6,693.0C251.8,693.8 259.1,694.4 266.3,694.9C273.6,695.5 280.8,696.0 288.1,696.5C295.3,697.0 302.6,697.4 309.8,698.0C317.0,698.5 324.3,699.1 331.5,699.8C338.7,700.5 345.9,701.2 353.1,702.1C360.3,702.9 367.5,703.8 374.7,704.8C381.9,705.7 389.1,706.7 396.3,707.7C403.5,708.7 410.7,709.7 417.9,710.7C425.1,711.7 432.3,712.8 439.5,713.7C446.7,714.7 453.9,715.7 461.1,716.6C468.3,717.5 475.5,718.4 482.7,719.2C489.9,720.1 497.1,720.9 504.4,721.7C511.6,722.5 518.8,723.2 526.0,724.0C533.2,724.7 540.5,725.4 547.7,726.1C554.9,726.8 562.1,727.5 569.4,728.1C576.6,728.7 583.8,729.4 591.1,730.0C598.3,730.5 605.5,731.1 612.8,731.7C620.0,732.2 627.2,732.7 634.5,733.3C641.7,733.8 649.0,734.3 656.2,734.7C663.5,735.2 670.7,735.7 677.9,736.1C685.2,736.5 692.4,737.0 699.7,737.4C706.9,737.8 714.2,738.2 721.4,738.6C728.7,738.9 735.9,739.3 743.2,739.7C750.4,740.0 757.7,740.4 765.0,740.7C772.2,741.1 779.5,741.4 786.7,741.7C794.0,742.1 801.2,742.4 808.5,742.7C815.7,743.0 823.0,743.3 830.3,743.6C837.5,743.9 844.8,744.2 852.0,744.5C859.3,744.8 866.5,745.1 873.8,745.3C881.0,745.6 888.3,745.9 895.6,746.2C902.8,746.5 910.1,746.7 917.3,747.0C924.6,747.3 931.8,747.6 939.1,747.8C946.3,748.1 953.6,748.3 960.9,748.6C968.1,748.9 975.4,749.1 982.6,749.4C989.9,749.6 997.1,749.9 1004.4,750.1C1011.6,750.3 1018.9,750.6 1026.2,750.8C1033.4,751.0 1040.7,751.3 1047.9,751.5C1055.2,751.7 1062.4,752.0 1069.7,752.2C1077.0,752.4 1084.2,752.6 1091.5,752.9C1098.7,753.1 1106.0,753.3 1113.2,753.5C1120.5,753.7 1127.7,753.9 1135.0,754.1C1142.3,754.3 1149.5,754.5 1156.8,754.7C1164.0,754.9 1171.3,755.1 1178.5,755.3C1185.8,755.5 1193.1,755.7 1200.3,755.9C1207.6,756.1 1214.8,756.2 1222.1,756.4C1229.3,756.6 1236.6,756.8 1243.9,756.9C1251.1,757.1 1258.4,757.3 1265.6,757.5C1272.9,757.6 1280.2,757.8 1287.4,758.0C1294.7,758.1 1301.9,758.3 1309.2,758.4C1316.4,758.6 1323.7,758.7 1331.0,758.9C1338.2,759.0 1345.5,759.2 1352.7,759.3C1360.0,759.5 1367.3,759.6 1374.5,759.8C1381.8,759.9 1389.0,760.0 1396.3,760.2C1403.6,760.3 1410.8,760.4 1418.1,760.6C1425.3,760.7 1432.6,760.8 1439.9,761.0C1447.1,761.1 1454.4,761.2 1461.6,761.3C1468.9,761.4 1476.2,761.6 1483.4,761.7C1490.7,761.8 1497.9,761.9 1505.2,762.0"/>
<polygon class="a" points="617.7,473.1 604.0,469.6 604.8,478.9"/>
<path class="e" d="M606.7,483.9L242.2,602.8"/>
<polygon class="a" points="619.4,479.8 605.3,479.5 608.2,488.4"/>
<path class="e" d="M620.3,485.5L373.4,602.8"/>
<polygon class="a" points="632.3,479.8 618.3,481.3 622.3,489.7"/>
<path class="e" d="M632.8,488.7L506.5,602.8"/>
<polygon class="a" points="642.7,479.8 629.7,485.3 635.9,492.2"/>
<path class="e" d="M642.1,491.5C641.0,493.5 640.8,496.0 639.9,498.3C637.5,504.6 635.5,511.2 634.3,517.9C633.1,524.5 632.6,531.3 633.1,537.9C633.5,544.6 635.0,551.3 637.4,557.6C639.7,564.0 643.0,570.2 646.8,575.8C650.7,581.5 655.3,586.7 660.4,591.3C665.4,595.8 671.0,599.7 677.0,602.8"/>
<polygon class="a" points="648.6,479.8 638.0,489.2 646.2,493.7"/>
<path class="e" d="M670.5,491.3L692.4,528.5"/>
<polygon class="a" points="663.7,479.8 666.4,493.7 674.5,488.9"/>
<path class="e" d="M696.9,485.2C699.2,486.2 701.3,487.7 703.5,488.9C709.6,492.1 715.7,495.6 721.6,499.2C727.5,502.9 733.3,506.7 738.9,510.8C744.5,514.8 750.0,519.1 755.3,523.5C760.7,527.9 765.8,532.5 770.8,537.3C775.8,542.1 780.6,547.1 785.3,552.2C789.9,557.4 794.4,562.7 798.6,568.1C802.9,573.6 807.0,579.3 810.8,585.0C814.7,590.8 818.3,596.8 821.8,602.8"/>
<polygon class="a" points="684.7,479.8 695.0,489.5 698.8,480.9"/>
<path class="e" d="M706.8,483.0L868.3,528.5"/>
<polygon class="a" points="694.0,479.4 705.6,487.5 708.1,478.5"/>
<path class="e" d="M707.2,472.5C709.8,472.8 712.3,473.0 714.8,473.3C721.7,474.1 728.7,474.9 735.6,475.7C742.5,476.5 749.5,477.4 756.4,478.2C763.3,479.1 770.2,479.9 777.2,480.8C784.1,481.7 791.0,482.6 797.9,483.6C804.8,484.5 811.7,485.5 818.6,486.5C825.5,487.5 832.4,488.6 839.2,489.7C846.1,490.7 853.0,491.9 859.8,493.0C866.7,494.2 873.5,495.4 880.3,496.7C887.2,497.9 894.1,499.3 900.9,500.7C907.8,502.1 914.7,503.6 921.6,505.2C928.5,506.8 935.5,508.4 942.3,510.5C949.0,512.5 955.6,515.0 961.8,518.1C967.9,521.2 973.7,524.9 979.0,529.3C984.3,533.7 989.1,538.8 993.2,544.2C997.4,549.8 1001.0,555.8 1003.9,562.1C1006.8,568.6 1009.1,575.3 1010.9,582.2C1012.7,589.0 1014.0,595.9 1014.9,602.8"/>
<polygon class="a" points="694.0,471.0 706.7,477.1 707.8,467.8"/>
<path class="e" d="M1426.1,492.7C1426.0,495.2 1426.2,497.6 1426.2,500.1C1426.1,507.0 1426.2,514.0 1426.4,520.9C1426.7,527.9 1427.1,534.9 1427.7,541.9C1428.3,548.8 1429.1,555.8 1430.1,562.7C1431.1,569.6 1432.3,576.4 1433.7,583.2C1435.2,590.0 1436.9,596.7 1438.8,603.4C1440.8,610.0 1443.0,616.5 1445.5,622.9C1448.0,629.3 1450.8,635.6 1454.0,641.7C1457.1,647.8 1460.5,653.8 1464.2,659.6C1467.9,665.5 1471.8,671.2 1475.9,676.8C1480.1,682.4 1484.5,687.9 1489.0,693.2C1493.5,698.6 1498.1,703.8 1502.9,708.9C1507.7,714.0 1512.6,719.0 1517.6,723.9C1522.6,728.8 1527.6,733.6 1532.7,738.3C1537.7,743.0 1542.8,747.6 1547.9,752.2"/>
<polygon class="a" points="1426.7,479.4 1421.5,492.5 1430.8,492.9"/>
<path class="e" d="M1794.5,484.2C1792.2,484.9 1789.9,485.7 1787.7,486.5C1781.1,488.7 1774.6,491.0 1768.2,493.2C1761.7,495.5 1755.2,497.9 1748.8,500.2C1742.3,502.6 1735.9,505.0 1729.5,507.5C1723.1,510.0 1716.7,512.6 1710.4,515.3C1704.1,517.9 1697.8,520.6 1691.5,523.4C1685.3,526.2 1679.0,529.1 1672.9,532.1C1666.7,535.1 1660.6,538.2 1654.5,541.3C1648.4,544.5 1642.3,547.7 1636.3,551.0C1630.3,554.3 1624.3,557.6 1618.3,561.0C1612.3,564.4 1606.3,567.8 1600.4,571.2C1594.5,574.7 1588.6,578.2 1582.6,581.7C1576.7,585.2 1570.8,588.7 1565.0,592.3C1559.1,595.8 1553.2,599.4 1547.3,602.9"/>
<polygon class="a" points="1807.2,480.0 1793.1,479.7 1796.0,488.6"/>
<path class="e" d="M1819.7,487.9L1765.1,528.5"/>
<polygon class="a" points="1830.4,480.0 1816.9,484.2 1822.5,491.7"/>
<path class="e" d="M1843.7,493.3C1843.5,496.1 1842.6,498.7 1842.1,501.5C1840.9,508.6 1839.3,515.7 1837.2,522.7C1835.2,529.6 1832.6,536.4 1829.6,542.9C1826.5,549.3 1822.9,555.5 1818.8,561.3C1814.6,567.1 1809.9,572.6 1804.8,577.6C1799.6,582.7 1794.1,587.3 1788.2,591.5C1782.3,595.7 1776.0,599.5 1769.6,602.9"/>
<polygon class="a" points="1844.8,480.0 1839.0,492.9 1848.4,493.7"/>
<path class="e" d="M1858.4,491.9L1913.3,602.9"/>
<polygon class="a" points="1852.5,480.0 1854.2,494.0 1862.6,489.9"/>
<path class="e" d="M1881.4,487.2C1883.7,488.7 1886.0,490.1 1888.3,491.5C1894.5,495.5 1900.7,499.4 1906.8,503.4C1913.0,507.5 1919.1,511.6 1925.2,515.9C1931.2,520.1 1937.1,524.6 1942.9,529.2C1948.6,533.7 1954.2,538.5 1959.6,543.5C1964.9,548.5 1970.0,553.7 1974.7,559.2C1979.5,564.7 1983.9,570.4 1987.9,576.4C1991.9,582.5 1995.5,588.9 1998.6,595.5C2001.7,602.1 2004.3,609.1 2005.6,616.3C2006.8,623.4 2006.2,630.9 2004.2,637.8C2002.2,645.0 1999.2,651.9 1995.7,658.4C1992.2,664.8 1988.3,670.9 1984.2,676.9"/>
<polygon class="a" points="1870.2,480.0 1878.9,491.1 1883.9,483.3"/>
<path class="e" d="M1898.2,483.4C1901.1,484.1 1903.6,485.8 1906.4,486.8C1913.2,489.4 1919.8,492.3 1926.3,495.5C1932.7,498.7 1939.0,502.3 1945.1,506.0C1951.3,509.8 1957.2,513.8 1963.1,518.0C1969.0,522.2 1974.7,526.6 1980.4,531.2C1986.0,535.7 1991.6,540.4 1997.1,545.1C2002.6,549.9 2008.1,554.8 2013.5,559.7C2018.9,564.6 2024.3,569.5 2029.5,574.5C2034.7,579.6 2039.7,584.8 2044.5,590.2C2049.2,595.6 2053.7,601.3 2057.7,607.3C2061.8,613.3 2065.4,619.6 2068.3,626.2C2071.3,633.0 2073.7,640.0 2075.0,647.2C2076.2,654.3 2076.2,661.7 2074.7,668.7C2073.3,675.8 2070.5,682.6 2066.8,688.8C2063.1,694.9 2058.3,700.6 2052.8,705.3C2047.3,710.0 2041.0,713.8 2034.3,716.4C2027.5,719.1 2020.3,720.8 2013.1,722.2C2005.9,723.6 1998.7,724.9 1991.5,726.3C1984.4,727.6 1977.3,728.8 1970.1,730.0C1963.0,731.2 1955.8,732.3 1948.7,733.3C1941.5,734.3 1934.4,735.2 1927.2,736.1C1920.0,737.0 1912.8,737.8 1905.6,738.5C1898.4,739.3 1891.2,740.0 1884.0,740.6C1876.7,741.3 1869.5,741.9 1862.3,742.4C1855.0,743.0 1847.8,743.5 1840.5,744.0C1833.3,744.4 1826.0,744.9 1818.8,745.3C1811.5,745.8 1804.3,746.2 1797.0,746.6C1789.7,747.0 1782.5,747.4 1775.2,747.8C1768.0,748.1 1760.7,748.5 1753.4,748.9C1746.2,749.3 1738.9,749.7 1731.7,750.1C1724.4,750.5 1717.1,750.9 1709.9,751.4C1702.7,751.8 1695.4,752.3 1688.2,752.8C1680.9,753.3 1673.7,753.9 1666.5,754.4C1659.3,755.0 1652.1,755.6 1644.9,756.3C1637.7,757.0 1630.5,757.7 1623.3,758.5"/>
<polygon class="a" points="1885.3,480.2 1897.1,488.0 1899.4,478.9"/>
<path class="e" d="M651.1,559.4L526.5,602.8"/>
<polygon class="a" points="663.7,555.0 649.6,555.0 652.6,563.8"/>
<path class="e" d="M664.6,563.7C662.5,565.5 659.9,566.7 657.7,568.3C652.0,572.6 646.3,576.8 640.8,581.2C635.1,585.9 629.4,590.8 624.7,596.5C620.3,601.8 616.9,608.8 617.3,615.7C617.8,622.7 620.7,629.6 624.0,635.8C627.4,642.2 631.8,648.2 636.7,653.5C641.7,658.8 647.3,663.6 653.4,667.6C659.3,671.6 665.7,674.9 672.3,677.7C678.9,680.5 685.6,682.8 692.5,684.9C699.3,687.0 706.2,688.9 713.1,691.0C720.0,693.0 726.9,695.1 733.8,697.2C740.7,699.3 747.6,701.4 754.5,703.3C761.4,705.3 768.4,707.2 775.3,709.0C782.3,710.7 789.3,712.3 796.3,713.7C803.4,715.1 810.4,716.4 817.5,717.6C824.6,718.8 831.7,719.8 838.8,720.8C845.9,721.8 853.0,722.7 860.1,723.5C867.3,724.3 874.4,725.1 881.5,725.8C888.7,726.6 895.8,727.3 903.0,728.0C910.1,728.7 917.3,729.4 924.4,730.1C931.6,730.7 938.7,731.4 945.9,732.0C953.0,732.6 960.2,733.2 967.3,733.8C974.5,734.4 981.6,734.9 988.8,735.5C996.0,736.0 1003.1,736.5 1010.3,737.0C1017.4,737.5 1024.6,738.0 1031.8,738.5C1038.9,738.9 1046.1,739.4 1053.3,739.8C1060.4,740.2 1067.6,740.7 1074.8,741.1C1081.9,741.5 1089.1,741.9 1096.3,742.2C1103.4,742.6 1110.6,743.0 1117.8,743.3C1124.9,743.7 1132.1,744.0 1139.3,744.4C1146.5,744.7 1153.6,745.0 1160.8,745.3C1168.0,745.6 1175.2,745.9 1182.3,746.2C1189.5,746.5 1196.7,746.8 1203.9,747.1C1211.0,747.3 1218.2,747.6 1225.4,747.9C1232.6,748.1 1239.7,748.4 1246.9,748.6C1254.1,748.9 1261.3,749.1 1268.4,749.4C1275.6,749.6 1282.8,749.9 1290.0,750.1C1297.2,750.3 1304.3,750.6 1311.5,750.8C1318.7,751.0 1325.9,751.3 1333.0,751.5C1340.2,751.7 1347.4,751.9 1354.6,752.2C1361.7,752.4 1368.9,752.6 1376.1,752.9C1383.3,753.1 1390.5,753.3 1397.6,753.6C1404.8,753.8 1412.0,754.0 1419.1,754.3C1426.3,754.5 1433.5,754.8 1440.7,755.0C1447.8,755.3 1455.0,755.5 1462.2,755.8C1469.4,756.1 1476.5,756.4 1483.7,756.6C1490.9,756.9 1498.0,757.2 1505.2,757.5"/>
<polygon class="a" points="674.7,555.0 661.5,560.1 667.6,567.2"/>
<path class="e" d="M698.3,568.3L696.4,602.8"/>
<polygon class="a" points="699.1,555.0 693.7,568.0 703.0,568.6"/>
<path class="e" d="M732.9,561.5L807.5,602.8"/>
<polygon class="a" points="721.2,555.0 730.6,565.5 735.1,557.4"/>
<path class="e" d="M764.0,557.3L964.5,602.8"/>
<polygon class="a" points="751.0,554.4 763.0,561.9 765.0,552.8"/>
<path class="e" d="M909.6,567.9C910.0,583.0 910.5,598.0 911.0,613.0C911.7,634.5 912.4,655.9 913.2,677.4"/>
<polygon class="a" points="909.2,554.6 904.9,568.1 914.3,567.8"/>
<path class="e" d="M1700.5,558.4L1565.0,602.9"/>
<polygon class="a" points="1713.2,554.2 1699.1,553.9 1702.0,562.8"/>
<path class="e" d="M1715.9,561.4C1713.5,562.8 1711.4,564.7 1709.1,566.2C1703.1,570.2 1697.4,574.5 1691.7,578.9C1686.1,583.3 1680.7,588.0 1675.5,592.8C1670.2,597.7 1665.2,602.7 1660.3,607.9C1655.4,613.1 1650.7,618.5 1646.2,624.0C1641.7,629.5 1637.3,635.2 1633.1,641.0C1628.9,646.8 1624.8,652.7 1620.9,658.6C1617.0,664.6 1613.2,670.7 1609.5,676.8C1605.8,683.0 1602.2,689.2 1598.7,695.4C1595.2,701.7 1591.8,708.0 1588.4,714.3C1585.1,720.7 1581.9,727.0 1578.6,733.4C1575.5,739.8 1572.3,746.2 1569.2,752.6"/>
<polygon class="a" points="1727.5,554.9 1713.6,557.3 1718.2,565.5"/>
<path class="e" d="M1749.4,567.5L1750.3,602.9"/>
<polygon class="a" points="1749.0,554.2 1744.7,567.6 1754.0,567.4"/>
<path class="e" d="M1788.5,559.4L1892.3,602.9"/>
<polygon class="a" points="1776.2,554.2 1786.7,563.7 1790.3,555.0"/>
<path class="e" d="M284.8,629.5C287.4,629.9 290.1,630.2 292.8,630.6C299.8,631.6 306.9,632.5 313.9,633.5C321.0,634.4 328.0,635.3 335.1,636.3C342.2,637.2 349.2,638.1 356.3,639.0C363.4,639.8 370.4,640.7 377.5,641.6C384.6,642.4 391.6,643.3 398.7,644.1C405.8,644.9 412.8,645.7 419.9,646.5C427.0,647.3 434.1,648.1 441.1,648.9C448.2,649.7 455.3,650.4 462.4,651.2C469.5,652.0 476.5,652.7 483.6,653.4C490.7,654.2 497.8,654.9 504.9,655.6C512.0,656.3 519.0,657.0 526.1,657.7C533.2,658.4 540.3,659.1 547.4,659.8C554.5,660.5 561.6,661.2 568.7,661.9C575.7,662.5 582.8,663.2 589.9,663.8C597.0,664.5 604.1,665.2 611.2,665.8C618.3,666.4 625.4,667.1 632.5,667.7C639.6,668.3 646.7,668.9 653.8,669.5C660.9,670.1 667.9,670.7 675.0,671.3C682.1,671.9 689.2,672.5 696.3,673.1C703.4,673.6 710.5,674.2 717.6,674.7C724.7,675.3 731.8,675.8 738.9,676.4C746.0,676.9 753.1,677.4 760.2,677.9C767.3,678.4 774.4,678.9 781.5,679.4C788.7,679.9 795.8,680.4 802.9,680.8C810.0,681.3 817.1,681.8 824.2,682.2C831.3,682.6 838.4,683.1 845.5,683.5"/>
<polygon class="a" points="271.6,627.6 284.1,634.1 285.5,624.9"/>
<path class="e" d="M246.1,634.3C248.7,635.5 251.3,636.6 253.9,637.7C260.5,640.7 267.2,643.6 273.9,646.5C280.5,649.3 287.3,652.2 294.0,654.9C300.7,657.6 307.5,660.3 314.3,662.9C321.1,665.6 327.9,668.1 334.8,670.6C341.6,673.0 348.5,675.4 355.4,677.7C362.3,680.0 369.2,682.2 376.1,684.3C383.1,686.4 390.1,688.4 397.1,690.3C404.1,692.2 411.1,694.0 418.2,695.6C425.2,697.3 432.3,698.9 439.4,700.4C446.5,701.9 453.6,703.4 460.8,704.7C467.9,706.0 475.1,707.3 482.2,708.5C489.4,709.7 496.6,710.8 503.8,711.9C511.0,713.0 518.2,714.0 525.4,714.9C532.6,715.9 539.8,716.8 547.0,717.7C554.2,718.6 561.5,719.4 568.7,720.2C575.9,721.0 583.2,721.8 590.4,722.5C597.6,723.3 604.9,724.0 612.1,724.7C619.3,725.4 626.6,726.0 633.8,726.7C641.1,727.4 648.3,728.0 655.6,728.6C662.8,729.2 670.0,729.9 677.3,730.4C684.5,731.0 691.8,731.6 699.0,732.2C706.3,732.8 713.5,733.3 720.8,733.9C728.0,734.4 735.3,734.9 742.5,735.4C749.8,736.0 757.0,736.5 764.3,736.9C771.5,737.4 778.8,737.9 786.0,738.4C793.3,738.8 800.5,739.3 807.8,739.7C815.1,740.2 822.3,740.6 829.6,741.0C836.8,741.5 844.1,741.9 851.3,742.3C858.6,742.7 865.8,743.1 873.1,743.4C880.4,743.8 887.6,744.2 894.9,744.5C902.1,744.9 909.4,745.2 916.7,745.6C923.9,745.9 931.2,746.3 938.4,746.6C945.7,746.9 953.0,747.2 960.2,747.5C967.5,747.8 974.7,748.1 982.0,748.4C989.3,748.7 996.5,749.0 1003.8,749.2C1011.1,749.5 1018.3,749.8 1025.6,750.0C1032.9,750.3 1040.1,750.5 1047.4,750.8C1054.6,751.0 1061.9,751.3 1069.2,751.5C1076.4,751.7 1083.7,752.0 1091.0,752.2C1098.2,752.4 1105.5,752.6 1112.8,752.8C1120.0,753.0 1127.3,753.2 1134.6,753.4C1141.8,753.6 1149.1,753.8 1156.4,754.0C1163.6,754.2 1170.9,754.4 1178.2,754.6C1185.4,754.8 1192.7,754.9 1200.0,755.1C1207.2,755.3 1214.5,755.4 1221.8,755.6C1229.0,755.8 1236.3,755.9 1243.6,756.1C1250.8,756.3 1258.1,756.4 1265.4,756.6C1272.7,756.7 1279.9,756.9 1287.2,757.0C1294.5,757.2 1301.7,757.3 1309.0,757.5C1316.3,757.6 1323.5,757.8 1330.8,757.9C1338.1,758.1 1345.3,758.2 1352.6,758.4C1359.9,758.5 1367.1,758.7 1374.4,758.8C1381.7,759.0 1388.9,759.1 1396.2,759.2C1403.5,759.4 1410.7,759.5 1418.0,759.7C1425.3,759.8 1432.5,760.0 1439.8,760.1C1447.1,760.3 1454.3,760.4 1461.6,760.6C1468.9,760.7 1476.1,760.9 1483.4,761.0C1490.7,761.2 1497.9,761.3 1505.2,761.5"/>
<polygon class="a" points="234.0,628.7 244.1,638.5 248.1,630.1"/>
<path class="e" d="M416.9,628.9C419.5,629.2 422.1,629.6 424.7,630.0C431.7,630.9 438.7,631.8 445.7,632.8C452.7,633.8 459.7,634.7 466.7,635.7C473.7,636.7 480.7,637.7 487.7,638.7C494.7,639.7 501.7,640.7 508.7,641.7C515.7,642.8 522.7,643.8 529.7,644.8C536.7,645.8 543.7,646.8 550.6,647.8C557.6,648.9 564.6,649.9 571.6,650.9C578.6,651.9 585.6,652.9 592.6,653.9C599.6,654.9 606.6,655.9 613.6,656.8C620.6,657.8 627.6,658.8 634.6,659.7C641.6,660.7 648.6,661.6 655.6,662.5C662.6,663.4 669.6,664.3 676.6,665.2C683.7,666.1 690.7,666.9 697.7,667.8C704.7,668.6 711.7,669.4 718.7,670.2C725.8,671.0 732.8,671.7 739.8,672.4C746.8,673.2 753.9,673.9 760.9,674.5C767.9,675.2 775.0,675.8 782.0,676.4C789.0,677.0 796.1,677.6 803.1,678.1C810.2,678.6 817.3,679.1 824.3,679.5C831.4,680.0 838.4,680.3 845.5,680.7"/>
<polygon class="a" points="403.7,627.2 416.3,633.5 417.5,624.3"/>
<path class="e" d="M379.9,635.3C382.3,636.7 384.9,637.9 387.3,639.3C393.7,642.7 400.2,646.0 406.7,649.3C413.2,652.6 419.7,655.8 426.3,658.9C432.9,662.0 439.5,665.1 446.1,668.2C452.7,671.2 459.4,674.2 466.1,677.1C472.7,680.0 479.4,682.8 486.2,685.5C492.9,688.3 499.7,690.9 506.6,693.3C513.4,695.8 520.3,698.1 527.2,700.3C534.1,702.4 541.1,704.4 548.1,706.1C555.1,707.9 562.2,709.5 569.3,711.0C576.4,712.4 583.6,713.8 590.7,715.0C597.9,716.3 605.1,717.4 612.3,718.6C619.5,719.7 626.7,720.8 633.9,721.8C641.1,722.9 648.3,723.8 655.5,724.8C662.8,725.7 670.0,726.6 677.2,727.5C684.4,728.3 691.7,729.1 698.9,729.9C706.1,730.7 713.4,731.4 720.6,732.1C727.8,732.8 735.1,733.5 742.3,734.1C749.6,734.8 756.8,735.4 764.1,735.9C771.3,736.5 778.6,737.0 785.8,737.6C793.1,738.1 800.3,738.6 807.6,739.0C814.8,739.5 822.1,739.9 829.3,740.4C836.6,740.8 843.8,741.2 851.1,741.6C858.4,742.0 865.6,742.3 872.9,742.7C880.1,743.0 887.4,743.4 894.7,743.7C901.9,744.0 909.2,744.4 916.5,744.7C923.7,745.0 931.0,745.3 938.3,745.6C945.5,745.9 952.8,746.2 960.0,746.5C967.3,746.8 974.6,747.0 981.8,747.3C989.1,747.6 996.4,747.9 1003.6,748.2C1010.9,748.4 1018.2,748.7 1025.4,749.0C1032.7,749.2 1040.0,749.5 1047.2,749.7C1054.5,750.0 1061.8,750.3 1069.0,750.5C1076.3,750.8 1083.6,751.0 1090.8,751.2C1098.1,751.5 1105.4,751.7 1112.7,751.9C1119.9,752.2 1127.2,752.4 1134.5,752.6C1141.7,752.9 1149.0,753.1 1156.3,753.3C1163.5,753.5 1170.8,753.7 1178.1,753.9C1185.3,754.1 1192.6,754.4 1199.9,754.6C1207.1,754.8 1214.4,755.0 1221.7,755.1C1229.0,755.3 1236.2,755.5 1243.5,755.7C1250.8,755.9 1258.0,756.1 1265.3,756.3C1272.6,756.5 1279.8,756.6 1287.1,756.8C1294.4,757.0 1301.7,757.1 1308.9,757.3C1316.2,757.5 1323.5,757.6 1330.7,757.8C1338.0,758.0 1345.3,758.1 1352.5,758.3C1359.8,758.4 1367.1,758.6 1374.3,758.7C1381.6,758.9 1388.9,759.0 1396.2,759.1C1403.4,759.3 1410.7,759.4 1418.0,759.6C1425.2,759.7 1432.5,759.8 1439.8,759.9C1447.0,760.1 1454.3,760.2 1461.6,760.3C1468.9,760.4 1476.1,760.6 1483.4,760.7C1490.7,760.8 1497.9,760.9 1505.2,761.0"/>
<polygon class="a" points="368.3,628.7 377.5,639.4 382.2,631.3"/>
<path class="e" d="M571.4,631.9C573.8,632.6 576.3,633.1 578.7,633.7C585.4,635.5 592.2,637.1 598.9,638.8C605.7,640.4 612.4,641.9 619.2,643.4C626.0,644.9 632.7,646.4 639.5,647.8C646.3,649.2 653.1,650.5 660.0,651.8C666.8,653.1 673.6,654.3 680.4,655.5C687.3,656.7 694.1,657.8 701.0,658.9C707.8,660.0 714.7,661.1 721.5,662.1C728.4,663.1 735.3,664.1 742.1,665.0C749.0,666.0 755.9,666.9 762.8,667.8C769.7,668.6 776.5,669.5 783.4,670.3C790.3,671.1 797.2,671.9 804.1,672.6C811.0,673.4 817.9,674.1 824.8,674.8C831.7,675.5 838.6,676.2 845.5,676.9"/>
<polygon class="a" points="558.6,628.3 570.2,636.4 572.7,627.4"/>
<path class="e" d="M506.3,640.6C507.6,643.2 509.8,645.2 511.5,647.6C515.6,653.5 520.2,659.3 525.1,664.6C530.0,670.0 535.2,675.0 540.7,679.7C546.3,684.3 552.1,688.5 558.2,692.4C564.2,696.2 570.5,699.6 577.0,702.6C583.5,705.5 590.2,708.0 597.0,710.2C603.8,712.4 610.8,714.3 617.8,715.9C624.8,717.6 632.0,719.0 639.1,720.2C646.3,721.4 653.5,722.5 660.7,723.6C667.9,724.6 675.1,725.6 682.3,726.6C689.5,727.5 696.7,728.4 704.0,729.2C711.2,730.1 718.4,730.8 725.6,731.6C732.8,732.3 740.0,733.0 747.2,733.7C754.4,734.4 761.6,735.0 768.8,735.6C776.0,736.2 783.2,736.7 790.4,737.2C797.6,737.7 804.8,738.2 812.0,738.7C819.2,739.2 826.4,739.6 833.6,740.0C840.8,740.4 848.0,740.8 855.2,741.2C862.4,741.5 869.6,741.9 876.8,742.2C884.0,742.6 891.3,742.9 898.5,743.2C905.7,743.5 912.9,743.8 920.1,744.1C927.3,744.4 934.5,744.7 941.7,745.0C948.9,745.3 956.1,745.5 963.3,745.8C970.6,746.1 977.8,746.4 985.0,746.7C992.2,746.9 999.4,747.2 1006.6,747.5C1013.9,747.8 1021.1,748.0 1028.3,748.3C1035.5,748.6 1042.8,748.8 1050.0,749.1C1057.2,749.3 1064.4,749.6 1071.7,749.9C1078.9,750.1 1086.1,750.4 1093.3,750.6C1100.6,750.9 1107.8,751.1 1115.0,751.4C1122.2,751.6 1129.5,751.8 1136.7,752.1C1143.9,752.3 1151.2,752.5 1158.4,752.8C1165.6,753.0 1172.8,753.2 1180.1,753.5C1187.3,753.7 1194.5,753.9 1201.8,754.1C1209.0,754.3 1216.2,754.5 1223.5,754.7C1230.7,754.9 1237.9,755.1 1245.1,755.3C1252.4,755.5 1259.6,755.7 1266.8,755.9C1274.1,756.1 1281.3,756.3 1288.5,756.5C1295.8,756.7 1303.0,756.9 1310.2,757.0C1317.4,757.2 1324.7,757.4 1331.9,757.5C1339.1,757.7 1346.4,757.9 1353.6,758.0C1360.8,758.2 1368.0,758.3 1375.3,758.5C1382.5,758.6 1389.7,758.7 1396.9,758.9C1404.2,759.0 1411.4,759.1 1418.6,759.3C1425.8,759.4 1433.0,759.5 1440.3,759.6C1447.5,759.7 1454.7,759.8 1461.9,759.9C1469.1,760.1 1476.3,760.2 1483.6,760.2C1490.8,760.3 1498.0,760.4 1505.2,760.5"/>
<polygon class="a" points="500.3,628.7 502.1,642.7 510.5,638.5"/>
<path class="e" d="M742.7,632.9L878.2,677.4"/>
<polygon class="a" points="730.0,628.7 741.2,637.3 744.1,628.4"/>
<path class="e" d="M719.9,636.3C722.2,637.9 724.3,639.6 726.5,641.2C732.4,645.4 738.2,649.7 744.1,653.9C750.0,658.1 755.9,662.3 761.9,666.4C767.9,670.4 773.9,674.4 780.1,678.2C786.2,682.0 792.4,685.7 798.8,689.1C805.1,692.5 811.5,695.6 818.1,698.6C824.6,701.5 831.3,704.1 838.0,706.6C844.8,709.0 851.6,711.1 858.5,713.0C865.5,714.9 872.5,716.6 879.5,718.2C886.6,719.7 893.7,721.0 900.8,722.3C908.0,723.5 915.1,724.6 922.3,725.6C929.5,726.7 936.7,727.6 943.9,728.6C951.1,729.5 958.2,730.4 965.4,731.3C972.6,732.1 979.7,733.0 986.9,733.8C994.1,734.6 1001.2,735.3 1008.4,736.1C1015.5,736.8 1022.7,737.5 1029.8,738.2C1037.0,738.8 1044.2,739.5 1051.3,740.0C1058.5,740.6 1065.7,741.2 1072.9,741.7C1080.0,742.2 1087.2,742.7 1094.4,743.2C1101.6,743.7 1108.8,744.1 1116.0,744.5C1123.2,744.9 1130.4,745.3 1137.6,745.7C1144.8,746.0 1152.0,746.4 1159.2,746.7C1166.4,747.0 1173.6,747.3 1180.8,747.6C1188.0,747.8 1195.3,748.1 1202.5,748.4C1209.7,748.6 1216.9,748.8 1224.1,749.1C1231.3,749.3 1238.6,749.5 1245.8,749.7C1253.0,749.9 1260.2,750.1 1267.4,750.3C1274.7,750.5 1281.9,750.7 1289.1,750.8C1296.3,751.0 1303.5,751.2 1310.8,751.4C1318.0,751.6 1325.2,751.7 1332.4,751.9C1339.6,752.1 1346.8,752.3 1354.1,752.5C1361.3,752.7 1368.5,752.9 1375.7,753.1C1382.9,753.3 1390.1,753.5 1397.3,753.8C1404.5,754.0 1411.7,754.2 1418.9,754.5C1426.1,754.7 1433.3,755.0 1440.5,755.3C1447.7,755.6 1454.9,755.9 1462.1,756.2C1469.3,756.6 1476.5,756.9 1483.7,757.3C1490.9,757.7 1498.0,758.1 1505.2,758.5"/>
<polygon class="a" points="709.0,628.7 717.3,640.2 722.6,632.5"/>
<path class="e" d="M852.5,637.4L899.2,677.4"/>
<polygon class="a" points="842.4,628.7 849.5,640.9 855.6,633.8"/>
<path class="e" d="M988.5,636.4L930.2,677.4"/>
<polygon class="a" points="999.4,628.7 985.8,632.6 991.2,640.2"/>
<path class="e" d="M1063.3,633.0C1065.9,633.8 1068.5,634.7 1071.0,635.5C1077.8,637.8 1084.6,640.0 1091.4,642.2C1098.2,644.4 1105.0,646.6 1111.8,648.8C1118.6,651.0 1125.4,653.2 1132.2,655.3C1139.1,657.5 1145.9,659.6 1152.7,661.7C1159.5,663.8 1166.4,665.9 1173.2,668.0C1180.1,670.1 1186.9,672.1 1193.8,674.2C1200.6,676.2 1207.5,678.2 1214.3,680.2C1221.2,682.3 1228.1,684.2 1234.9,686.2C1241.8,688.2 1248.7,690.1 1255.6,692.0C1262.4,694.0 1269.3,695.9 1276.2,697.8C1283.1,699.6 1290.0,701.5 1296.9,703.4C1303.8,705.2 1310.7,707.0 1317.7,708.8C1324.6,710.7 1331.5,712.4 1338.4,714.2C1345.3,716.0 1352.3,717.7 1359.2,719.5C1366.2,721.2 1373.1,722.9 1380.0,724.6C1387.0,726.3 1393.9,727.9 1400.9,729.6C1407.8,731.2 1414.8,732.8 1421.8,734.4C1428.7,736.0 1435.7,737.6 1442.7,739.2C1449.7,740.7 1456.6,742.3 1463.6,743.8C1470.6,745.3 1477.6,746.8 1484.6,748.3C1491.6,749.7 1498.6,751.2 1505.6,752.6"/>
<polygon class="a" points="1050.7,628.7 1061.8,637.4 1064.8,628.5"/>
<path class="e" d="M1158.9,631.7L963.6,677.4"/>
<polygon class="a" points="1171.9,628.7 1157.9,627.2 1160.0,636.3"/>
<path class="e" d="M1245.2,636.3C1247.5,637.8 1249.7,639.4 1251.9,641.0C1257.7,645.1 1263.6,649.2 1269.5,653.3C1275.4,657.4 1281.4,661.4 1287.4,665.4C1293.3,669.3 1299.4,673.2 1305.5,677.0C1311.5,680.7 1317.7,684.4 1323.9,687.9C1330.2,691.3 1336.5,694.7 1342.9,697.8C1349.3,701.0 1355.8,704.0 1362.3,706.8C1368.9,709.7 1375.5,712.4 1382.1,715.0C1388.8,717.6 1395.5,720.1 1402.3,722.4C1409.0,724.8 1415.8,727.0 1422.7,729.2C1429.5,731.4 1436.4,733.4 1443.3,735.4C1450.2,737.4 1457.1,739.4 1464.0,741.2C1470.9,743.1 1477.9,744.9 1484.8,746.7C1491.7,748.5 1498.7,750.3 1505.6,752.0"/>
<polygon class="a" points="1234.3,628.7 1242.6,640.1 1247.9,632.5"/>
<path class="e" d="M1536.2,641.6C1536.9,644.1 1537.4,646.7 1538.0,649.2C1539.7,656.1 1541.4,663.0 1542.9,669.9C1544.5,676.8 1546.1,683.7 1547.7,690.6C1549.2,697.5 1550.7,704.4 1552.3,711.3C1553.8,718.2 1555.4,725.1 1557.0,732.0C1558.6,738.9 1560.2,745.7 1561.9,752.6"/>
<polygon class="a" points="1532.7,628.7 1531.7,642.8 1540.7,640.3"/>
<path class="e" d="M1579.7,633.1L1719.6,677.4"/>
<polygon class="a" points="1567.0,629.1 1578.3,637.6 1581.1,628.7"/>
<path class="e" d="M1751.8,642.4L1755.0,677.4"/>
<polygon class="a" points="1750.6,629.1 1747.2,642.8 1756.5,642.0"/>
<path class="e" d="M1722.5,637.4C1720.8,638.8 1719.0,640.0 1717.3,641.4C1712.0,645.4 1706.8,649.5 1701.5,653.5C1696.2,657.5 1690.9,661.5 1685.6,665.5C1680.3,669.5 1675.0,673.5 1669.7,677.5C1664.4,681.5 1659.2,685.5 1653.9,689.5C1648.6,693.6 1643.4,697.6 1638.1,701.7C1632.9,705.7 1627.7,709.8 1622.5,714.0C1617.3,718.1 1612.2,722.3 1607.1,726.5C1602.0,730.7 1596.9,735.0 1591.9,739.4C1586.9,743.7 1581.9,748.1 1577.0,752.6"/>
<polygon class="a" points="1732.9,629.1 1719.6,633.8 1725.4,641.1"/>
<path class="e" d="M1879.9,635.1L1782.7,677.4"/>
<polygon class="a" points="1892.1,629.8 1878.0,630.8 1881.7,639.4"/>
<path class="e" d="M1907.3,642.0C1906.3,644.4 1904.3,646.2 1902.9,648.4C1899.3,654.3 1895.3,660.0 1890.9,665.4C1886.5,670.7 1881.7,675.7 1876.7,680.3C1871.6,684.8 1866.2,689.0 1860.6,692.8C1854.9,696.7 1849.0,700.1 1842.9,703.3C1836.8,706.5 1830.5,709.4 1824.1,712.1C1817.7,714.8 1811.2,717.2 1804.6,719.5C1798.1,721.8 1791.4,724.0 1784.8,726.0C1778.2,728.0 1771.5,729.9 1764.8,731.7C1758.2,733.5 1751.5,735.1 1744.8,736.7C1738.1,738.3 1731.3,739.8 1724.6,741.2C1717.8,742.6 1711.1,744.0 1704.3,745.3C1697.5,746.6 1690.7,747.8 1683.9,749.0C1677.2,750.2 1670.4,751.4 1663.6,752.5C1656.7,753.6 1649.9,754.7 1643.1,755.9C1636.3,757.0 1629.5,758.1 1622.7,759.2"/>
<polygon class="a" points="1912.7,629.8 1903.0,640.1 1911.6,643.9"/>
<path class="e" d="M994.3,701.0C997.2,701.2 1000.0,701.5 1002.9,701.7C1010.2,702.3 1017.5,703.0 1024.8,703.6C1032.1,704.3 1039.4,705.0 1046.7,705.6C1054.0,706.3 1061.2,707.0 1068.5,707.8C1075.8,708.5 1083.1,709.2 1090.4,710.0C1097.7,710.7 1105.0,711.5 1112.2,712.2C1119.5,713.0 1126.8,713.8 1134.1,714.6C1141.4,715.4 1148.6,716.2 1155.9,717.0C1163.2,717.8 1170.5,718.6 1177.7,719.4C1185.0,720.2 1192.3,721.1 1199.6,721.9C1206.8,722.7 1214.1,723.6 1221.4,724.4C1228.7,725.3 1235.9,726.1 1243.2,727.0C1250.5,727.8 1257.8,728.7 1265.0,729.5C1272.3,730.4 1279.6,731.3 1286.8,732.1C1294.1,733.0 1301.4,733.8 1308.7,734.7C1315.9,735.5 1323.2,736.4 1330.5,737.2C1337.8,738.1 1345.0,738.9 1352.3,739.8C1359.6,740.6 1366.9,741.4 1374.1,742.3C1381.4,743.1 1388.7,743.9 1396.0,744.7C1403.2,745.5 1410.5,746.4 1417.8,747.2C1425.1,748.0 1432.4,748.7 1439.6,749.5C1446.9,750.3 1454.2,751.1 1461.5,751.8C1468.8,752.6 1476.1,753.3 1483.3,754.1C1490.6,754.8 1497.9,755.5 1505.2,756.2"/>
<polygon class="a" points="981.0,699.9 993.9,705.6 994.7,696.3"/>
<path class="e" d="M1711.5,708.2L1594.6,752.6"/>
<polygon class="a" points="1724.0,703.5 1709.9,703.9 1713.2,712.6"/>
<path class="e" d="M1895.6,705.5L1622.7,753.7"/>
<polygon class="a" points="1908.7,703.2 1894.8,700.9 1896.4,710.1"/>
<rect class="n" style="fill:#bfbfbf" x="2232.00" y="5.90" width="170.67" height="25.33"/>
<text x="2243.37" y="22.0" textLength="148.33" lengthAdjust="spacingAndGlyphs">PxHeightFieldGeometry.h</text>
<rect class="n" x="2075.33" y="80.57" width="150.67" height="25.33"/>
<text x="2086.70" y="97.0" textLength="128.33" lengthAdjust="spacingAndGlyphs">PxGeometryHelpers.h</text>
<rect class="n" x="2108.00" y="155.23" width="85.33" height="25.33"/>
<text x="2119.37" y="171.0" textLength="63.00" lengthAdjust="spacingAndGlyphs">PxShape.h</text>
<rect class="n" x="1374.00" y="229.90" width="108.00" height="25.33"/>
<text x="1385.37" y="246.0" textLength="85.67" lengthAdjust="spacingAndGlyphs">PxRigidActor.h</text>
<rect class="n" x="1992.00" y="229.90" width="96.00" height="25.33"/>
<text x="2003.37" y="246.0" textLength="73.67" lengthAdjust="spacingAndGlyphs">PxPhysics.h</text>
<rect class="n" x="2214.00" y="229.90" width="182.67" height="25.33"/>
<text x="2225.37" y="246.0" textLength="160.33" lengthAdjust="spacingAndGlyphs">PxContactModifyCallback.h</text>
<rect class="n" x="1221.33" y="304.57" width="128.00" height="25.33"/>
<text x="1232.70" y="321.0" textLength="105.67" lengthAdjust="spacingAndGlyphs">PxRigidActorExt.h</text>
<rect class="n" x="1374.67" y="304.57" width="106.67" height="25.33"/>
<text x="1386.03" y="321.0" textLength="84.33" lengthAdjust="spacingAndGlyphs">PxRigidBody.h</text>
<rect class="n" x="2227.33" y="304.57" width="118.67" height="25.33"/>
<text x="2238.70" y="321.0" textLength="96.33" lengthAdjust="spacingAndGlyphs">PxBatchQuery.h</text>
<rect class="n" x="1782.00" y="379.24" width="129.33" height="25.33"/>
<text x="1793.37" y="395.0" textLength="107.00" lengthAdjust="spacingAndGlyphs">PxRigidDynamic.h</text>
<rect class="n" x="1936.00" y="379.24" width="112.00" height="25.33"/>
<text x="1947.37" y="395.0" textLength="89.67" lengthAdjust="spacingAndGlyphs">PxRigidStatic.h</text>
<rect class="n" x="2072.67" y="379.24" width="105.33" height="25.33"/>
<text x="2084.03" y="395.0" textLength="83.00" lengthAdjust="spacingAndGlyphs">PxShapeExt.h</text>
<rect class="n" x="618.00" y="453.90" width="76.00" height="25.33"/>
<text x="629.37" y="470.0" textLength="53.67" lengthAdjust="spacingAndGlyphs">PxJoint.h</text>
<rect class="n" x="1358.67" y="453.90" width="138.67" height="25.33"/>
<text x="1370.03" y="470.0" textLength="116.33" lengthAdjust="spacingAndGlyphs">PxArticulationLink.h</text>
<rect class="n" x="1778.67" y="453.90" width="136.00" height="25.33"/>
<text x="1790.03" y="470.0" textLength="113.67" lengthAdjust="spacingAndGlyphs">PxVehicleWheels.h</text>
<rect class="n" x="648.00" y="528.57" width="104.00" height="25.33"/>
<text x="659.37" y="545.0" textLength="81.67" lengthAdjust="spacingAndGlyphs">PxJointLimit.h</text>
<rect class="n" x="848.67" y="528.57" width="121.33" height="25.33"/>
<text x="860.03" y="545.0" textLength="99.00" lengthAdjust="spacingAndGlyphs">PxContactJoint.h</text>
<rect class="n" x="1689.33" y="528.57" width="120.00" height="25.33"/>
<text x="1700.70" y="545.0" textLength="97.67" lengthAdjust="spacingAndGlyphs">PxVehicleDrive.h</text>
<rect class="n" x="145.33" y="603.24" width="125.33" height="25.33"/>
<text x="156.70" y="619.0" textLength="103.00" lengthAdjust="spacingAndGlyphs">PxDistanceJoint.h</text>
<rect class="n" x="295.33" y="603.24" width="108.00" height="25.33"/>
<text x="306.70" y="619.0" textLength="85.67" lengthAdjust="spacingAndGlyphs">PxFixedJoint.h</text>
<rect class="n" x="428.67" y="603.24" width="129.33" height="25.33"/>
<text x="440.03" y="619.0" textLength="107.00" lengthAdjust="spacingAndGlyphs">PxPrismaticJoint.h</text>
<rect class="n" x="634.00" y="603.24" width="124.00" height="25.33"/>
<text x="645.37" y="619.0" textLength="101.67" lengthAdjust="spacingAndGlyphs">PxRevoluteJoint.h</text>
<rect class="n" x="784.00" y="603.24" width="90.67" height="25.33"/>
<text x="795.37" y="619.0" textLength="68.33" lengthAdjust="spacingAndGlyphs">PxD6Joint.h</text>
<rect class="n" x="950.67" y="603.24" width="130.67" height="25.33"/>
<text x="962.03" y="619.0" textLength="108.33" lengthAdjust="spacingAndGlyphs">PxSphericalJoint.h</text>
<rect class="n" x="1156.67" y="603.24" width="126.67" height="25.33"/>
<text x="1168.03" y="619.0" textLength="104.33" lengthAdjust="spacingAndGlyphs">PxRigidBodyExt.h</text>
<rect class="n" x="1460.67" y="603.24" width="140.00" height="25.33"/>
<text x="1472.03" y="619.0" textLength="117.67" lengthAdjust="spacingAndGlyphs">PxVehicleDrive4W.h</text>
<rect class="n" x="1676.67" y="603.24" width="148.00" height="25.33"/>
<text x="1688.03" y="619.0" textLength="125.67" lengthAdjust="spacingAndGlyphs">PxVehicleDriveTank.h</text>
<rect class="n" x="1849.33" y="603.24" width="141.33" height="25.33"/>
<text x="1860.70" y="619.0" textLength="119.00" lengthAdjust="spacingAndGlyphs">PxVehicleDriveNW.h</text>
<rect class="n" x="846.00" y="677.90" width="134.67" height="25.33"/>
<text x="857.37" y="694.0" textLength="112.33" lengthAdjust="spacingAndGlyphs">PxExtensionsAPI.h</text>
<rect class="n" x="1680.67" y="677.90" width="150.67" height="25.33"/>
<text x="1692.03" y="694.0" textLength="128.33" lengthAdjust="spacingAndGlyphs">PxVehicleUtilControl.h</text>
<rect class="n" x="1907.33" y="677.90" width="134.67" height="25.33"/>
<text x="1918.70" y="694.0" textLength="112.33" lengthAdjust="spacingAndGlyphs">PxVehicleNoDrive.h</text>
<rect class="n" x="1505.33" y="752.57" width="117.33" height="25.33"/>
<text x="1516.70" y="769.0" textLength="95.00" lengthAdjust="spacingAndGlyphs">PxPhysicsAPI.h</text>
</svg></body></html>
